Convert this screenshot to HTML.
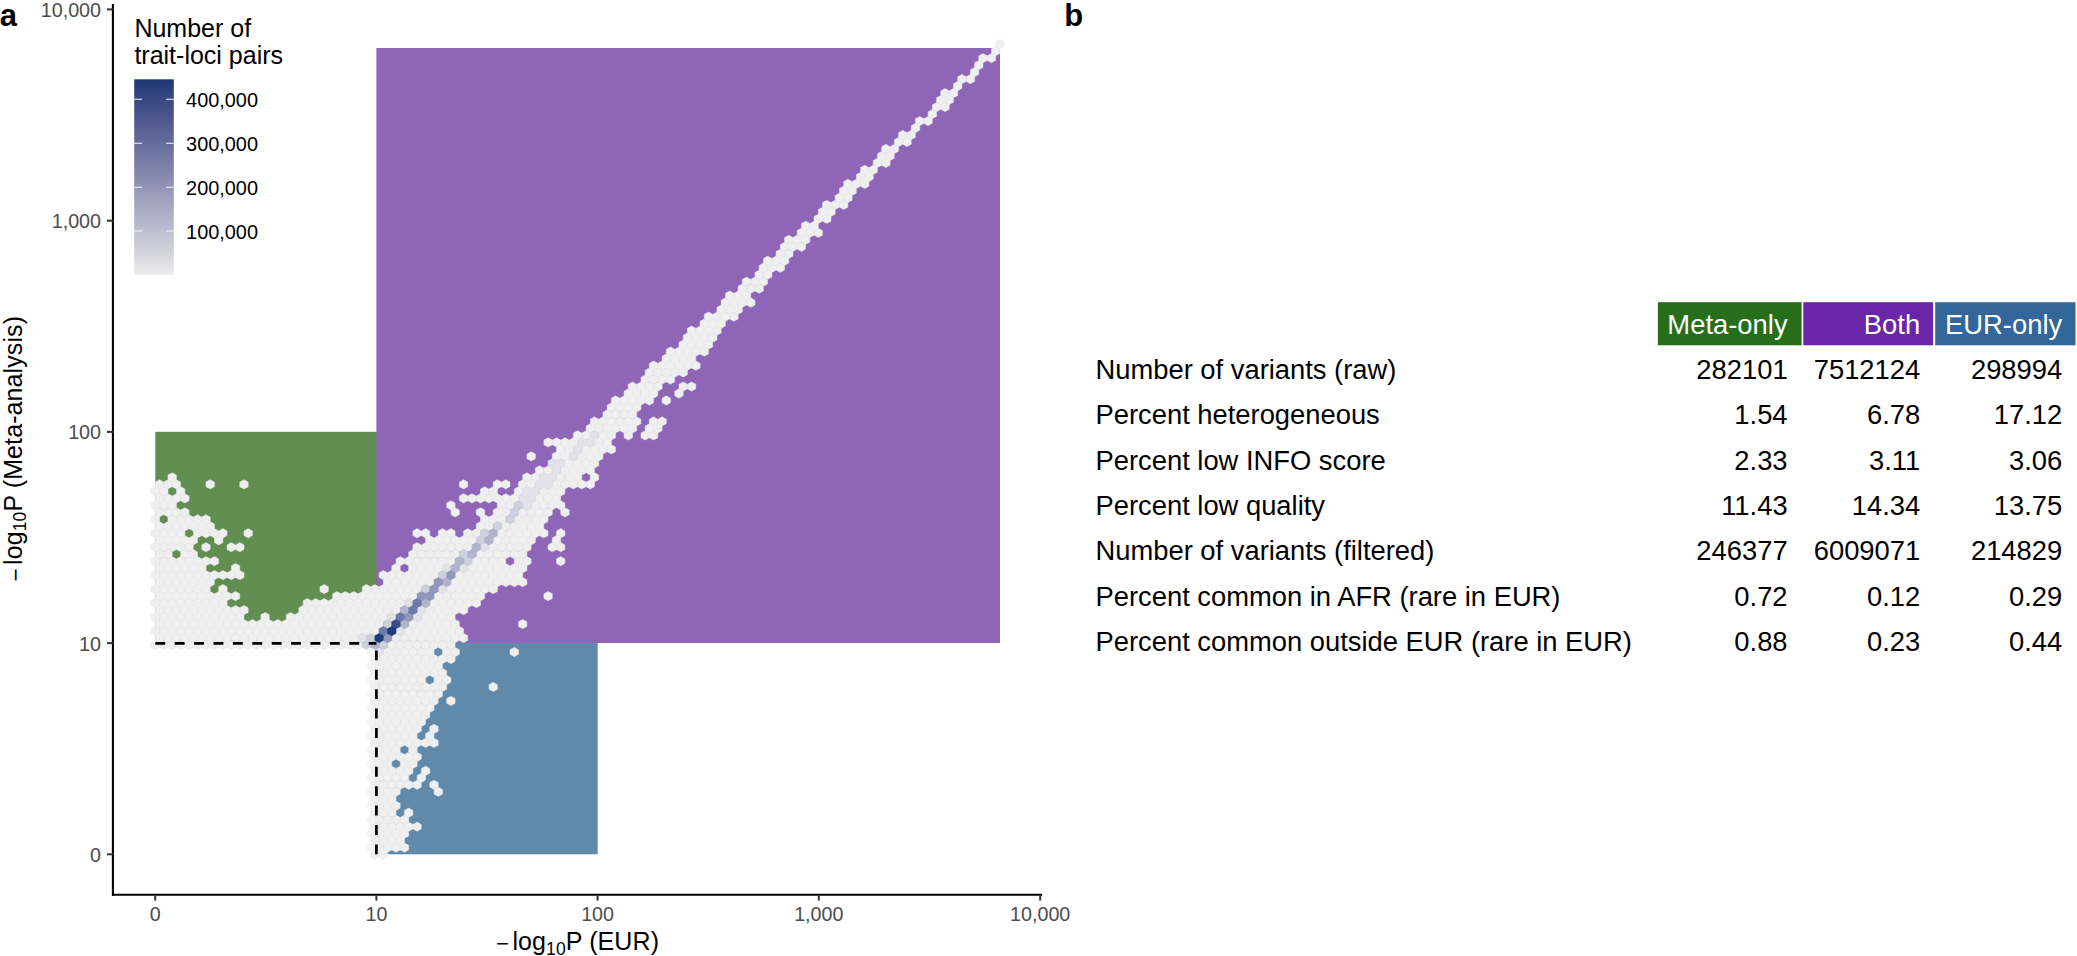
<!DOCTYPE html>
<html><head><meta charset="utf-8"><title>Figure</title><style>html,body{margin:0;padding:0;background:#fff}
svg{display:block}
text{font-family:"Liberation Sans",Arial,sans-serif}
.tk{font-size:19.7px;fill:#4d4d4d}
.at{font-size:25px;fill:#000;letter-spacing:0.1px}
.pl{font-size:31px;font-weight:bold;fill:#000}
.lt{font-size:25px;fill:#000}
.ll{font-size:19.9px;fill:#000}
.th{font-size:27.4px;fill:#fff}
.td{font-size:27.35px;fill:#000}
</style></head><body>
<svg width="2077" height="956" viewBox="0 0 2077 956">
<rect x="0" y="0" width="2077" height="956" fill="#fff"/>
<rect x="155.3" y="431.8" width="224" height="211.2" fill="#628e52"/>
<rect x="376.4" y="640" width="221.3" height="214.3" fill="#618aaa"/>
<rect x="376.4" y="48" width="623.6" height="595" fill="#8f65b8"/>
<path fill="#efeff0" stroke="#e7e7e9" stroke-width="0.5" d="M176.4 475.03l-4.22 -2.32l-4.22 2.32v4.64l4.22 2.32l4.22 -2.32zM531.1 475.03l-4.22 -2.32l-4.22 2.32v4.64l4.22 2.32l4.22 -2.32zM539.6 475.03l-4.22 -2.32l-4.22 2.32v4.64l4.22 2.32l4.22 -2.32zM564.9 475.03l-4.22 -2.32l-4.22 2.32v4.64l4.22 2.32l4.22 -2.32zM573.4 475.03l-4.22 -2.32l-4.22 2.32v4.64l4.22 2.32l4.22 -2.32zM581.8 475.03l-4.22 -2.32l-4.22 2.32v4.64l4.22 2.32l4.22 -2.32zM598.7 475.03l-4.22 -2.32l-4.22 2.32v4.64l4.22 2.32l4.22 -2.32zM163.7 482.02l-4.22 -2.32l-4.22 2.32v4.64l4.22 2.32l4.22 -2.32zM172.2 482.02l-4.22 -2.32l-4.22 2.32v4.64l4.22 2.32l4.22 -2.32zM180.6 482.02l-4.22 -2.32l-4.22 2.32v4.64l4.22 2.32l4.22 -2.32zM214.4 482.02l-4.22 -2.32l-4.22 2.32v4.64l4.22 2.32l4.22 -2.32zM248.2 482.02l-4.22 -2.32l-4.22 2.32v4.64l4.22 2.32l4.22 -2.32zM467.8 482.02l-4.22 -2.32l-4.22 2.32v4.64l4.22 2.32l4.22 -2.32zM501.6 482.02l-4.22 -2.32l-4.22 2.32v4.64l4.22 2.32l4.22 -2.32zM510.0 482.02l-4.22 -2.32l-4.22 2.32v4.64l4.22 2.32l4.22 -2.32zM526.9 482.02l-4.22 -2.32l-4.22 2.32v4.64l4.22 2.32l4.22 -2.32zM535.4 482.02l-4.22 -2.32l-4.22 2.32v4.64l4.22 2.32l4.22 -2.32zM560.7 482.02l-4.22 -2.32l-4.22 2.32v4.64l4.22 2.32l4.22 -2.32zM569.2 482.02l-4.22 -2.32l-4.22 2.32v4.64l4.22 2.32l4.22 -2.32zM577.6 482.02l-4.22 -2.32l-4.22 2.32v4.64l4.22 2.32l4.22 -2.32zM586.0 482.02l-4.22 -2.32l-4.22 2.32v4.64l4.22 2.32l4.22 -2.32zM594.5 482.02l-4.22 -2.32l-4.22 2.32v4.64l4.22 2.32l4.22 -2.32zM159.5 489.01l-4.22 -2.32l-4.22 2.32v4.64l4.22 2.32l4.22 -2.32zM168.0 489.01l-4.22 -2.32l-4.22 2.32v4.64l4.22 2.32l4.22 -2.32zM184.9 489.01l-4.22 -2.32l-4.22 2.32v4.64l4.22 2.32l4.22 -2.32zM488.9 489.01l-4.22 -2.32l-4.22 2.32v4.64l4.22 2.32l4.22 -2.32zM497.4 489.01l-4.22 -2.32l-4.22 2.32v4.64l4.22 2.32l4.22 -2.32zM522.7 489.01l-4.22 -2.32l-4.22 2.32v4.64l4.22 2.32l4.22 -2.32zM548.0 489.01l-4.22 -2.32l-4.22 2.32v4.64l4.22 2.32l4.22 -2.32zM556.5 489.01l-4.22 -2.32l-4.22 2.32v4.64l4.22 2.32l4.22 -2.32zM564.9 489.01l-4.22 -2.32l-4.22 2.32v4.64l4.22 2.32l4.22 -2.32zM163.7 495.99l-4.22 -2.32l-4.22 2.32v4.64l4.22 2.32l4.22 -2.32zM172.2 495.99l-4.22 -2.32l-4.22 2.32v4.64l4.22 2.32l4.22 -2.32zM180.6 495.99l-4.22 -2.32l-4.22 2.32v4.64l4.22 2.32l4.22 -2.32zM189.1 495.99l-4.22 -2.32l-4.22 2.32v4.64l4.22 2.32l4.22 -2.32zM467.8 495.99l-4.22 -2.32l-4.22 2.32v4.64l4.22 2.32l4.22 -2.32zM476.2 495.99l-4.22 -2.32l-4.22 2.32v4.64l4.22 2.32l4.22 -2.32zM484.7 495.99l-4.22 -2.32l-4.22 2.32v4.64l4.22 2.32l4.22 -2.32zM493.1 495.99l-4.22 -2.32l-4.22 2.32v4.64l4.22 2.32l4.22 -2.32zM501.6 495.99l-4.22 -2.32l-4.22 2.32v4.64l4.22 2.32l4.22 -2.32zM510.0 495.99l-4.22 -2.32l-4.22 2.32v4.64l4.22 2.32l4.22 -2.32zM518.5 495.99l-4.22 -2.32l-4.22 2.32v4.64l4.22 2.32l4.22 -2.32zM543.8 495.99l-4.22 -2.32l-4.22 2.32v4.64l4.22 2.32l4.22 -2.32zM552.3 495.99l-4.22 -2.32l-4.22 2.32v4.64l4.22 2.32l4.22 -2.32zM560.7 495.99l-4.22 -2.32l-4.22 2.32v4.64l4.22 2.32l4.22 -2.32zM159.5 502.98l-4.22 -2.32l-4.22 2.32v4.64l4.22 2.32l4.22 -2.32zM168.0 502.98l-4.22 -2.32l-4.22 2.32v4.64l4.22 2.32l4.22 -2.32zM176.4 502.98l-4.22 -2.32l-4.22 2.32v4.64l4.22 2.32l4.22 -2.32zM455.1 502.98l-4.22 -2.32l-4.22 2.32v4.64l4.22 2.32l4.22 -2.32zM505.8 502.98l-4.22 -2.32l-4.22 2.32v4.64l4.22 2.32l4.22 -2.32zM514.3 502.98l-4.22 -2.32l-4.22 2.32v4.64l4.22 2.32l4.22 -2.32zM539.6 502.98l-4.22 -2.32l-4.22 2.32v4.64l4.22 2.32l4.22 -2.32zM548.0 502.98l-4.22 -2.32l-4.22 2.32v4.64l4.22 2.32l4.22 -2.32zM556.5 502.98l-4.22 -2.32l-4.22 2.32v4.64l4.22 2.32l4.22 -2.32zM564.9 502.98l-4.22 -2.32l-4.22 2.32v4.64l4.22 2.32l4.22 -2.32zM163.7 509.97l-4.22 -2.32l-4.22 2.32v4.64l4.22 2.32l4.22 -2.32zM172.2 509.97l-4.22 -2.32l-4.22 2.32v4.64l4.22 2.32l4.22 -2.32zM180.6 509.97l-4.22 -2.32l-4.22 2.32v4.64l4.22 2.32l4.22 -2.32zM189.1 509.97l-4.22 -2.32l-4.22 2.32v4.64l4.22 2.32l4.22 -2.32zM459.4 509.97l-4.22 -2.32l-4.22 2.32v4.64l4.22 2.32l4.22 -2.32zM484.7 509.97l-4.22 -2.32l-4.22 2.32v4.64l4.22 2.32l4.22 -2.32zM501.6 509.97l-4.22 -2.32l-4.22 2.32v4.64l4.22 2.32l4.22 -2.32zM510.0 509.97l-4.22 -2.32l-4.22 2.32v4.64l4.22 2.32l4.22 -2.32zM526.9 509.97l-4.22 -2.32l-4.22 2.32v4.64l4.22 2.32l4.22 -2.32zM535.4 509.97l-4.22 -2.32l-4.22 2.32v4.64l4.22 2.32l4.22 -2.32zM543.8 509.97l-4.22 -2.32l-4.22 2.32v4.64l4.22 2.32l4.22 -2.32zM552.3 509.97l-4.22 -2.32l-4.22 2.32v4.64l4.22 2.32l4.22 -2.32zM569.2 509.97l-4.22 -2.32l-4.22 2.32v4.64l4.22 2.32l4.22 -2.32zM159.5 516.95l-4.22 -2.32l-4.22 2.32v4.64l4.22 2.32l4.22 -2.32zM176.4 516.95l-4.22 -2.32l-4.22 2.32v4.64l4.22 2.32l4.22 -2.32zM184.9 516.95l-4.22 -2.32l-4.22 2.32v4.64l4.22 2.32l4.22 -2.32zM193.3 516.95l-4.22 -2.32l-4.22 2.32v4.64l4.22 2.32l4.22 -2.32zM201.8 516.95l-4.22 -2.32l-4.22 2.32v4.64l4.22 2.32l4.22 -2.32zM210.2 516.95l-4.22 -2.32l-4.22 2.32v4.64l4.22 2.32l4.22 -2.32zM488.9 516.95l-4.22 -2.32l-4.22 2.32v4.64l4.22 2.32l4.22 -2.32zM497.4 516.95l-4.22 -2.32l-4.22 2.32v4.64l4.22 2.32l4.22 -2.32zM505.8 516.95l-4.22 -2.32l-4.22 2.32v4.64l4.22 2.32l4.22 -2.32zM522.7 516.95l-4.22 -2.32l-4.22 2.32v4.64l4.22 2.32l4.22 -2.32zM531.1 516.95l-4.22 -2.32l-4.22 2.32v4.64l4.22 2.32l4.22 -2.32zM539.6 516.95l-4.22 -2.32l-4.22 2.32v4.64l4.22 2.32l4.22 -2.32zM548.0 516.95l-4.22 -2.32l-4.22 2.32v4.64l4.22 2.32l4.22 -2.32zM163.7 523.94l-4.22 -2.32l-4.22 2.32v4.64l4.22 2.32l4.22 -2.32zM172.2 523.94l-4.22 -2.32l-4.22 2.32v4.64l4.22 2.32l4.22 -2.32zM180.6 523.94l-4.22 -2.32l-4.22 2.32v4.64l4.22 2.32l4.22 -2.32zM189.1 523.94l-4.22 -2.32l-4.22 2.32v4.64l4.22 2.32l4.22 -2.32zM197.5 523.94l-4.22 -2.32l-4.22 2.32v4.64l4.22 2.32l4.22 -2.32zM206.0 523.94l-4.22 -2.32l-4.22 2.32v4.64l4.22 2.32l4.22 -2.32zM214.4 523.94l-4.22 -2.32l-4.22 2.32v4.64l4.22 2.32l4.22 -2.32zM484.7 523.94l-4.22 -2.32l-4.22 2.32v4.64l4.22 2.32l4.22 -2.32zM493.1 523.94l-4.22 -2.32l-4.22 2.32v4.64l4.22 2.32l4.22 -2.32zM510.0 523.94l-4.22 -2.32l-4.22 2.32v4.64l4.22 2.32l4.22 -2.32zM518.5 523.94l-4.22 -2.32l-4.22 2.32v4.64l4.22 2.32l4.22 -2.32zM526.9 523.94l-4.22 -2.32l-4.22 2.32v4.64l4.22 2.32l4.22 -2.32zM535.4 523.94l-4.22 -2.32l-4.22 2.32v4.64l4.22 2.32l4.22 -2.32zM543.8 523.94l-4.22 -2.32l-4.22 2.32v4.64l4.22 2.32l4.22 -2.32zM159.5 530.93l-4.22 -2.32l-4.22 2.32v4.64l4.22 2.32l4.22 -2.32zM168.0 530.93l-4.22 -2.32l-4.22 2.32v4.64l4.22 2.32l4.22 -2.32zM176.4 530.93l-4.22 -2.32l-4.22 2.32v4.64l4.22 2.32l4.22 -2.32zM184.9 530.93l-4.22 -2.32l-4.22 2.32v4.64l4.22 2.32l4.22 -2.32zM201.8 530.93l-4.22 -2.32l-4.22 2.32v4.64l4.22 2.32l4.22 -2.32zM210.2 530.93l-4.22 -2.32l-4.22 2.32v4.64l4.22 2.32l4.22 -2.32zM218.6 530.93l-4.22 -2.32l-4.22 2.32v4.64l4.22 2.32l4.22 -2.32zM227.1 530.93l-4.22 -2.32l-4.22 2.32v4.64l4.22 2.32l4.22 -2.32zM252.4 530.93l-4.22 -2.32l-4.22 2.32v4.64l4.22 2.32l4.22 -2.32zM421.3 530.93l-4.22 -2.32l-4.22 2.32v4.64l4.22 2.32l4.22 -2.32zM429.8 530.93l-4.22 -2.32l-4.22 2.32v4.64l4.22 2.32l4.22 -2.32zM446.7 530.93l-4.22 -2.32l-4.22 2.32v4.64l4.22 2.32l4.22 -2.32zM455.1 530.93l-4.22 -2.32l-4.22 2.32v4.64l4.22 2.32l4.22 -2.32zM472.0 530.93l-4.22 -2.32l-4.22 2.32v4.64l4.22 2.32l4.22 -2.32zM480.5 530.93l-4.22 -2.32l-4.22 2.32v4.64l4.22 2.32l4.22 -2.32zM505.8 530.93l-4.22 -2.32l-4.22 2.32v4.64l4.22 2.32l4.22 -2.32zM514.3 530.93l-4.22 -2.32l-4.22 2.32v4.64l4.22 2.32l4.22 -2.32zM522.7 530.93l-4.22 -2.32l-4.22 2.32v4.64l4.22 2.32l4.22 -2.32zM531.1 530.93l-4.22 -2.32l-4.22 2.32v4.64l4.22 2.32l4.22 -2.32zM539.6 530.93l-4.22 -2.32l-4.22 2.32v4.64l4.22 2.32l4.22 -2.32zM548.0 530.93l-4.22 -2.32l-4.22 2.32v4.64l4.22 2.32l4.22 -2.32zM564.9 530.93l-4.22 -2.32l-4.22 2.32v4.64l4.22 2.32l4.22 -2.32zM163.7 537.92l-4.22 -2.32l-4.22 2.32v4.64l4.22 2.32l4.22 -2.32zM172.2 537.92l-4.22 -2.32l-4.22 2.32v4.64l4.22 2.32l4.22 -2.32zM180.6 537.92l-4.22 -2.32l-4.22 2.32v4.64l4.22 2.32l4.22 -2.32zM189.1 537.92l-4.22 -2.32l-4.22 2.32v4.64l4.22 2.32l4.22 -2.32zM197.5 537.92l-4.22 -2.32l-4.22 2.32v4.64l4.22 2.32l4.22 -2.32zM222.9 537.92l-4.22 -2.32l-4.22 2.32v4.64l4.22 2.32l4.22 -2.32zM434.0 537.92l-4.22 -2.32l-4.22 2.32v4.64l4.22 2.32l4.22 -2.32zM442.5 537.92l-4.22 -2.32l-4.22 2.32v4.64l4.22 2.32l4.22 -2.32zM450.9 537.92l-4.22 -2.32l-4.22 2.32v4.64l4.22 2.32l4.22 -2.32zM459.4 537.92l-4.22 -2.32l-4.22 2.32v4.64l4.22 2.32l4.22 -2.32zM467.8 537.92l-4.22 -2.32l-4.22 2.32v4.64l4.22 2.32l4.22 -2.32zM476.2 537.92l-4.22 -2.32l-4.22 2.32v4.64l4.22 2.32l4.22 -2.32zM501.6 537.92l-4.22 -2.32l-4.22 2.32v4.64l4.22 2.32l4.22 -2.32zM510.0 537.92l-4.22 -2.32l-4.22 2.32v4.64l4.22 2.32l4.22 -2.32zM518.5 537.92l-4.22 -2.32l-4.22 2.32v4.64l4.22 2.32l4.22 -2.32zM526.9 537.92l-4.22 -2.32l-4.22 2.32v4.64l4.22 2.32l4.22 -2.32zM535.4 537.92l-4.22 -2.32l-4.22 2.32v4.64l4.22 2.32l4.22 -2.32zM560.7 537.92l-4.22 -2.32l-4.22 2.32v4.64l4.22 2.32l4.22 -2.32zM159.5 544.90l-4.22 -2.32l-4.22 2.32v4.64l4.22 2.32l4.22 -2.32zM168.0 544.90l-4.22 -2.32l-4.22 2.32v4.64l4.22 2.32l4.22 -2.32zM176.4 544.90l-4.22 -2.32l-4.22 2.32v4.64l4.22 2.32l4.22 -2.32zM184.9 544.90l-4.22 -2.32l-4.22 2.32v4.64l4.22 2.32l4.22 -2.32zM193.3 544.90l-4.22 -2.32l-4.22 2.32v4.64l4.22 2.32l4.22 -2.32zM210.2 544.90l-4.22 -2.32l-4.22 2.32v4.64l4.22 2.32l4.22 -2.32zM235.5 544.90l-4.22 -2.32l-4.22 2.32v4.64l4.22 2.32l4.22 -2.32zM244.0 544.90l-4.22 -2.32l-4.22 2.32v4.64l4.22 2.32l4.22 -2.32zM421.3 544.90l-4.22 -2.32l-4.22 2.32v4.64l4.22 2.32l4.22 -2.32zM429.8 544.90l-4.22 -2.32l-4.22 2.32v4.64l4.22 2.32l4.22 -2.32zM438.2 544.90l-4.22 -2.32l-4.22 2.32v4.64l4.22 2.32l4.22 -2.32zM446.7 544.90l-4.22 -2.32l-4.22 2.32v4.64l4.22 2.32l4.22 -2.32zM455.1 544.90l-4.22 -2.32l-4.22 2.32v4.64l4.22 2.32l4.22 -2.32zM463.6 544.90l-4.22 -2.32l-4.22 2.32v4.64l4.22 2.32l4.22 -2.32zM472.0 544.90l-4.22 -2.32l-4.22 2.32v4.64l4.22 2.32l4.22 -2.32zM497.4 544.90l-4.22 -2.32l-4.22 2.32v4.64l4.22 2.32l4.22 -2.32zM505.8 544.90l-4.22 -2.32l-4.22 2.32v4.64l4.22 2.32l4.22 -2.32zM514.3 544.90l-4.22 -2.32l-4.22 2.32v4.64l4.22 2.32l4.22 -2.32zM522.7 544.90l-4.22 -2.32l-4.22 2.32v4.64l4.22 2.32l4.22 -2.32zM531.1 544.90l-4.22 -2.32l-4.22 2.32v4.64l4.22 2.32l4.22 -2.32zM556.5 544.90l-4.22 -2.32l-4.22 2.32v4.64l4.22 2.32l4.22 -2.32zM564.9 544.90l-4.22 -2.32l-4.22 2.32v4.64l4.22 2.32l4.22 -2.32zM163.7 551.89l-4.22 -2.32l-4.22 2.32v4.64l4.22 2.32l4.22 -2.32zM172.2 551.89l-4.22 -2.32l-4.22 2.32v4.64l4.22 2.32l4.22 -2.32zM189.1 551.89l-4.22 -2.32l-4.22 2.32v4.64l4.22 2.32l4.22 -2.32zM197.5 551.89l-4.22 -2.32l-4.22 2.32v4.64l4.22 2.32l4.22 -2.32zM417.1 551.89l-4.22 -2.32l-4.22 2.32v4.64l4.22 2.32l4.22 -2.32zM425.6 551.89l-4.22 -2.32l-4.22 2.32v4.64l4.22 2.32l4.22 -2.32zM434.0 551.89l-4.22 -2.32l-4.22 2.32v4.64l4.22 2.32l4.22 -2.32zM442.5 551.89l-4.22 -2.32l-4.22 2.32v4.64l4.22 2.32l4.22 -2.32zM450.9 551.89l-4.22 -2.32l-4.22 2.32v4.64l4.22 2.32l4.22 -2.32zM459.4 551.89l-4.22 -2.32l-4.22 2.32v4.64l4.22 2.32l4.22 -2.32zM484.7 551.89l-4.22 -2.32l-4.22 2.32v4.64l4.22 2.32l4.22 -2.32zM493.1 551.89l-4.22 -2.32l-4.22 2.32v4.64l4.22 2.32l4.22 -2.32zM501.6 551.89l-4.22 -2.32l-4.22 2.32v4.64l4.22 2.32l4.22 -2.32zM510.0 551.89l-4.22 -2.32l-4.22 2.32v4.64l4.22 2.32l4.22 -2.32zM518.5 551.89l-4.22 -2.32l-4.22 2.32v4.64l4.22 2.32l4.22 -2.32zM526.9 551.89l-4.22 -2.32l-4.22 2.32v4.64l4.22 2.32l4.22 -2.32zM159.5 558.88l-4.22 -2.32l-4.22 2.32v4.64l4.22 2.32l4.22 -2.32zM168.0 558.88l-4.22 -2.32l-4.22 2.32v4.64l4.22 2.32l4.22 -2.32zM176.4 558.88l-4.22 -2.32l-4.22 2.32v4.64l4.22 2.32l4.22 -2.32zM184.9 558.88l-4.22 -2.32l-4.22 2.32v4.64l4.22 2.32l4.22 -2.32zM193.3 558.88l-4.22 -2.32l-4.22 2.32v4.64l4.22 2.32l4.22 -2.32zM201.8 558.88l-4.22 -2.32l-4.22 2.32v4.64l4.22 2.32l4.22 -2.32zM210.2 558.88l-4.22 -2.32l-4.22 2.32v4.64l4.22 2.32l4.22 -2.32zM218.6 558.88l-4.22 -2.32l-4.22 2.32v4.64l4.22 2.32l4.22 -2.32zM404.5 558.88l-4.22 -2.32l-4.22 2.32v4.64l4.22 2.32l4.22 -2.32zM412.9 558.88l-4.22 -2.32l-4.22 2.32v4.64l4.22 2.32l4.22 -2.32zM421.3 558.88l-4.22 -2.32l-4.22 2.32v4.64l4.22 2.32l4.22 -2.32zM429.8 558.88l-4.22 -2.32l-4.22 2.32v4.64l4.22 2.32l4.22 -2.32zM438.2 558.88l-4.22 -2.32l-4.22 2.32v4.64l4.22 2.32l4.22 -2.32zM446.7 558.88l-4.22 -2.32l-4.22 2.32v4.64l4.22 2.32l4.22 -2.32zM455.1 558.88l-4.22 -2.32l-4.22 2.32v4.64l4.22 2.32l4.22 -2.32zM480.5 558.88l-4.22 -2.32l-4.22 2.32v4.64l4.22 2.32l4.22 -2.32zM488.9 558.88l-4.22 -2.32l-4.22 2.32v4.64l4.22 2.32l4.22 -2.32zM497.4 558.88l-4.22 -2.32l-4.22 2.32v4.64l4.22 2.32l4.22 -2.32zM505.8 558.88l-4.22 -2.32l-4.22 2.32v4.64l4.22 2.32l4.22 -2.32zM522.7 558.88l-4.22 -2.32l-4.22 2.32v4.64l4.22 2.32l4.22 -2.32zM531.1 558.88l-4.22 -2.32l-4.22 2.32v4.64l4.22 2.32l4.22 -2.32zM564.9 558.88l-4.22 -2.32l-4.22 2.32v4.64l4.22 2.32l4.22 -2.32zM163.7 565.86l-4.22 -2.32l-4.22 2.32v4.64l4.22 2.32l4.22 -2.32zM172.2 565.86l-4.22 -2.32l-4.22 2.32v4.64l4.22 2.32l4.22 -2.32zM180.6 565.86l-4.22 -2.32l-4.22 2.32v4.64l4.22 2.32l4.22 -2.32zM189.1 565.86l-4.22 -2.32l-4.22 2.32v4.64l4.22 2.32l4.22 -2.32zM197.5 565.86l-4.22 -2.32l-4.22 2.32v4.64l4.22 2.32l4.22 -2.32zM206.0 565.86l-4.22 -2.32l-4.22 2.32v4.64l4.22 2.32l4.22 -2.32zM239.8 565.86l-4.22 -2.32l-4.22 2.32v4.64l4.22 2.32l4.22 -2.32zM400.2 565.86l-4.22 -2.32l-4.22 2.32v4.64l4.22 2.32l4.22 -2.32zM417.1 565.86l-4.22 -2.32l-4.22 2.32v4.64l4.22 2.32l4.22 -2.32zM425.6 565.86l-4.22 -2.32l-4.22 2.32v4.64l4.22 2.32l4.22 -2.32zM434.0 565.86l-4.22 -2.32l-4.22 2.32v4.64l4.22 2.32l4.22 -2.32zM442.5 565.86l-4.22 -2.32l-4.22 2.32v4.64l4.22 2.32l4.22 -2.32zM476.2 565.86l-4.22 -2.32l-4.22 2.32v4.64l4.22 2.32l4.22 -2.32zM484.7 565.86l-4.22 -2.32l-4.22 2.32v4.64l4.22 2.32l4.22 -2.32zM493.1 565.86l-4.22 -2.32l-4.22 2.32v4.64l4.22 2.32l4.22 -2.32zM501.6 565.86l-4.22 -2.32l-4.22 2.32v4.64l4.22 2.32l4.22 -2.32zM510.0 565.86l-4.22 -2.32l-4.22 2.32v4.64l4.22 2.32l4.22 -2.32zM518.5 565.86l-4.22 -2.32l-4.22 2.32v4.64l4.22 2.32l4.22 -2.32zM526.9 565.86l-4.22 -2.32l-4.22 2.32v4.64l4.22 2.32l4.22 -2.32zM159.5 572.85l-4.22 -2.32l-4.22 2.32v4.64l4.22 2.32l4.22 -2.32zM168.0 572.85l-4.22 -2.32l-4.22 2.32v4.64l4.22 2.32l4.22 -2.32zM176.4 572.85l-4.22 -2.32l-4.22 2.32v4.64l4.22 2.32l4.22 -2.32zM184.9 572.85l-4.22 -2.32l-4.22 2.32v4.64l4.22 2.32l4.22 -2.32zM193.3 572.85l-4.22 -2.32l-4.22 2.32v4.64l4.22 2.32l4.22 -2.32zM201.8 572.85l-4.22 -2.32l-4.22 2.32v4.64l4.22 2.32l4.22 -2.32zM210.2 572.85l-4.22 -2.32l-4.22 2.32v4.64l4.22 2.32l4.22 -2.32zM218.6 572.85l-4.22 -2.32l-4.22 2.32v4.64l4.22 2.32l4.22 -2.32zM227.1 572.85l-4.22 -2.32l-4.22 2.32v4.64l4.22 2.32l4.22 -2.32zM235.5 572.85l-4.22 -2.32l-4.22 2.32v4.64l4.22 2.32l4.22 -2.32zM244.0 572.85l-4.22 -2.32l-4.22 2.32v4.64l4.22 2.32l4.22 -2.32zM387.6 572.85l-4.22 -2.32l-4.22 2.32v4.64l4.22 2.32l4.22 -2.32zM396.0 572.85l-4.22 -2.32l-4.22 2.32v4.64l4.22 2.32l4.22 -2.32zM404.5 572.85l-4.22 -2.32l-4.22 2.32v4.64l4.22 2.32l4.22 -2.32zM412.9 572.85l-4.22 -2.32l-4.22 2.32v4.64l4.22 2.32l4.22 -2.32zM421.3 572.85l-4.22 -2.32l-4.22 2.32v4.64l4.22 2.32l4.22 -2.32zM429.8 572.85l-4.22 -2.32l-4.22 2.32v4.64l4.22 2.32l4.22 -2.32zM438.2 572.85l-4.22 -2.32l-4.22 2.32v4.64l4.22 2.32l4.22 -2.32zM463.6 572.85l-4.22 -2.32l-4.22 2.32v4.64l4.22 2.32l4.22 -2.32zM472.0 572.85l-4.22 -2.32l-4.22 2.32v4.64l4.22 2.32l4.22 -2.32zM480.5 572.85l-4.22 -2.32l-4.22 2.32v4.64l4.22 2.32l4.22 -2.32zM488.9 572.85l-4.22 -2.32l-4.22 2.32v4.64l4.22 2.32l4.22 -2.32zM497.4 572.85l-4.22 -2.32l-4.22 2.32v4.64l4.22 2.32l4.22 -2.32zM505.8 572.85l-4.22 -2.32l-4.22 2.32v4.64l4.22 2.32l4.22 -2.32zM514.3 572.85l-4.22 -2.32l-4.22 2.32v4.64l4.22 2.32l4.22 -2.32zM522.7 572.85l-4.22 -2.32l-4.22 2.32v4.64l4.22 2.32l4.22 -2.32zM163.7 579.84l-4.22 -2.32l-4.22 2.32v4.64l4.22 2.32l4.22 -2.32zM172.2 579.84l-4.22 -2.32l-4.22 2.32v4.64l4.22 2.32l4.22 -2.32zM180.6 579.84l-4.22 -2.32l-4.22 2.32v4.64l4.22 2.32l4.22 -2.32zM189.1 579.84l-4.22 -2.32l-4.22 2.32v4.64l4.22 2.32l4.22 -2.32zM197.5 579.84l-4.22 -2.32l-4.22 2.32v4.64l4.22 2.32l4.22 -2.32zM206.0 579.84l-4.22 -2.32l-4.22 2.32v4.64l4.22 2.32l4.22 -2.32zM214.4 579.84l-4.22 -2.32l-4.22 2.32v4.64l4.22 2.32l4.22 -2.32zM391.8 579.84l-4.22 -2.32l-4.22 2.32v4.64l4.22 2.32l4.22 -2.32zM400.2 579.84l-4.22 -2.32l-4.22 2.32v4.64l4.22 2.32l4.22 -2.32zM408.7 579.84l-4.22 -2.32l-4.22 2.32v4.64l4.22 2.32l4.22 -2.32zM417.1 579.84l-4.22 -2.32l-4.22 2.32v4.64l4.22 2.32l4.22 -2.32zM425.6 579.84l-4.22 -2.32l-4.22 2.32v4.64l4.22 2.32l4.22 -2.32zM434.0 579.84l-4.22 -2.32l-4.22 2.32v4.64l4.22 2.32l4.22 -2.32zM459.4 579.84l-4.22 -2.32l-4.22 2.32v4.64l4.22 2.32l4.22 -2.32zM467.8 579.84l-4.22 -2.32l-4.22 2.32v4.64l4.22 2.32l4.22 -2.32zM476.2 579.84l-4.22 -2.32l-4.22 2.32v4.64l4.22 2.32l4.22 -2.32zM484.7 579.84l-4.22 -2.32l-4.22 2.32v4.64l4.22 2.32l4.22 -2.32zM493.1 579.84l-4.22 -2.32l-4.22 2.32v4.64l4.22 2.32l4.22 -2.32zM501.6 579.84l-4.22 -2.32l-4.22 2.32v4.64l4.22 2.32l4.22 -2.32zM510.0 579.84l-4.22 -2.32l-4.22 2.32v4.64l4.22 2.32l4.22 -2.32zM518.5 579.84l-4.22 -2.32l-4.22 2.32v4.64l4.22 2.32l4.22 -2.32zM526.9 579.84l-4.22 -2.32l-4.22 2.32v4.64l4.22 2.32l4.22 -2.32zM159.5 586.82l-4.22 -2.32l-4.22 2.32v4.64l4.22 2.32l4.22 -2.32zM168.0 586.82l-4.22 -2.32l-4.22 2.32v4.64l4.22 2.32l4.22 -2.32zM176.4 586.82l-4.22 -2.32l-4.22 2.32v4.64l4.22 2.32l4.22 -2.32zM184.9 586.82l-4.22 -2.32l-4.22 2.32v4.64l4.22 2.32l4.22 -2.32zM193.3 586.82l-4.22 -2.32l-4.22 2.32v4.64l4.22 2.32l4.22 -2.32zM201.8 586.82l-4.22 -2.32l-4.22 2.32v4.64l4.22 2.32l4.22 -2.32zM210.2 586.82l-4.22 -2.32l-4.22 2.32v4.64l4.22 2.32l4.22 -2.32zM227.1 586.82l-4.22 -2.32l-4.22 2.32v4.64l4.22 2.32l4.22 -2.32zM328.4 586.82l-4.22 -2.32l-4.22 2.32v4.64l4.22 2.32l4.22 -2.32zM370.7 586.82l-4.22 -2.32l-4.22 2.32v4.64l4.22 2.32l4.22 -2.32zM379.1 586.82l-4.22 -2.32l-4.22 2.32v4.64l4.22 2.32l4.22 -2.32zM387.6 586.82l-4.22 -2.32l-4.22 2.32v4.64l4.22 2.32l4.22 -2.32zM396.0 586.82l-4.22 -2.32l-4.22 2.32v4.64l4.22 2.32l4.22 -2.32zM404.5 586.82l-4.22 -2.32l-4.22 2.32v4.64l4.22 2.32l4.22 -2.32zM412.9 586.82l-4.22 -2.32l-4.22 2.32v4.64l4.22 2.32l4.22 -2.32zM421.3 586.82l-4.22 -2.32l-4.22 2.32v4.64l4.22 2.32l4.22 -2.32zM455.1 586.82l-4.22 -2.32l-4.22 2.32v4.64l4.22 2.32l4.22 -2.32zM463.6 586.82l-4.22 -2.32l-4.22 2.32v4.64l4.22 2.32l4.22 -2.32zM472.0 586.82l-4.22 -2.32l-4.22 2.32v4.64l4.22 2.32l4.22 -2.32zM480.5 586.82l-4.22 -2.32l-4.22 2.32v4.64l4.22 2.32l4.22 -2.32zM488.9 586.82l-4.22 -2.32l-4.22 2.32v4.64l4.22 2.32l4.22 -2.32zM497.4 586.82l-4.22 -2.32l-4.22 2.32v4.64l4.22 2.32l4.22 -2.32zM163.7 593.81l-4.22 -2.32l-4.22 2.32v4.64l4.22 2.32l4.22 -2.32zM172.2 593.81l-4.22 -2.32l-4.22 2.32v4.64l4.22 2.32l4.22 -2.32zM180.6 593.81l-4.22 -2.32l-4.22 2.32v4.64l4.22 2.32l4.22 -2.32zM189.1 593.81l-4.22 -2.32l-4.22 2.32v4.64l4.22 2.32l4.22 -2.32zM197.5 593.81l-4.22 -2.32l-4.22 2.32v4.64l4.22 2.32l4.22 -2.32zM206.0 593.81l-4.22 -2.32l-4.22 2.32v4.64l4.22 2.32l4.22 -2.32zM214.4 593.81l-4.22 -2.32l-4.22 2.32v4.64l4.22 2.32l4.22 -2.32zM222.9 593.81l-4.22 -2.32l-4.22 2.32v4.64l4.22 2.32l4.22 -2.32zM231.3 593.81l-4.22 -2.32l-4.22 2.32v4.64l4.22 2.32l4.22 -2.32zM239.8 593.81l-4.22 -2.32l-4.22 2.32v4.64l4.22 2.32l4.22 -2.32zM341.1 593.81l-4.22 -2.32l-4.22 2.32v4.64l4.22 2.32l4.22 -2.32zM349.6 593.81l-4.22 -2.32l-4.22 2.32v4.64l4.22 2.32l4.22 -2.32zM358.0 593.81l-4.22 -2.32l-4.22 2.32v4.64l4.22 2.32l4.22 -2.32zM366.5 593.81l-4.22 -2.32l-4.22 2.32v4.64l4.22 2.32l4.22 -2.32zM374.9 593.81l-4.22 -2.32l-4.22 2.32v4.64l4.22 2.32l4.22 -2.32zM383.3 593.81l-4.22 -2.32l-4.22 2.32v4.64l4.22 2.32l4.22 -2.32zM391.8 593.81l-4.22 -2.32l-4.22 2.32v4.64l4.22 2.32l4.22 -2.32zM400.2 593.81l-4.22 -2.32l-4.22 2.32v4.64l4.22 2.32l4.22 -2.32zM408.7 593.81l-4.22 -2.32l-4.22 2.32v4.64l4.22 2.32l4.22 -2.32zM417.1 593.81l-4.22 -2.32l-4.22 2.32v4.64l4.22 2.32l4.22 -2.32zM442.5 593.81l-4.22 -2.32l-4.22 2.32v4.64l4.22 2.32l4.22 -2.32zM450.9 593.81l-4.22 -2.32l-4.22 2.32v4.64l4.22 2.32l4.22 -2.32zM459.4 593.81l-4.22 -2.32l-4.22 2.32v4.64l4.22 2.32l4.22 -2.32zM467.8 593.81l-4.22 -2.32l-4.22 2.32v4.64l4.22 2.32l4.22 -2.32zM476.2 593.81l-4.22 -2.32l-4.22 2.32v4.64l4.22 2.32l4.22 -2.32zM484.7 593.81l-4.22 -2.32l-4.22 2.32v4.64l4.22 2.32l4.22 -2.32zM552.3 593.81l-4.22 -2.32l-4.22 2.32v4.64l4.22 2.32l4.22 -2.32zM159.5 600.80l-4.22 -2.32l-4.22 2.32v4.64l4.22 2.32l4.22 -2.32zM168.0 600.80l-4.22 -2.32l-4.22 2.32v4.64l4.22 2.32l4.22 -2.32zM176.4 600.80l-4.22 -2.32l-4.22 2.32v4.64l4.22 2.32l4.22 -2.32zM184.9 600.80l-4.22 -2.32l-4.22 2.32v4.64l4.22 2.32l4.22 -2.32zM193.3 600.80l-4.22 -2.32l-4.22 2.32v4.64l4.22 2.32l4.22 -2.32zM201.8 600.80l-4.22 -2.32l-4.22 2.32v4.64l4.22 2.32l4.22 -2.32zM210.2 600.80l-4.22 -2.32l-4.22 2.32v4.64l4.22 2.32l4.22 -2.32zM218.6 600.80l-4.22 -2.32l-4.22 2.32v4.64l4.22 2.32l4.22 -2.32zM227.1 600.80l-4.22 -2.32l-4.22 2.32v4.64l4.22 2.32l4.22 -2.32zM311.6 600.80l-4.22 -2.32l-4.22 2.32v4.64l4.22 2.32l4.22 -2.32zM320.0 600.80l-4.22 -2.32l-4.22 2.32v4.64l4.22 2.32l4.22 -2.32zM328.4 600.80l-4.22 -2.32l-4.22 2.32v4.64l4.22 2.32l4.22 -2.32zM336.9 600.80l-4.22 -2.32l-4.22 2.32v4.64l4.22 2.32l4.22 -2.32zM345.3 600.80l-4.22 -2.32l-4.22 2.32v4.64l4.22 2.32l4.22 -2.32zM353.8 600.80l-4.22 -2.32l-4.22 2.32v4.64l4.22 2.32l4.22 -2.32zM362.2 600.80l-4.22 -2.32l-4.22 2.32v4.64l4.22 2.32l4.22 -2.32zM370.7 600.80l-4.22 -2.32l-4.22 2.32v4.64l4.22 2.32l4.22 -2.32zM379.1 600.80l-4.22 -2.32l-4.22 2.32v4.64l4.22 2.32l4.22 -2.32zM387.6 600.80l-4.22 -2.32l-4.22 2.32v4.64l4.22 2.32l4.22 -2.32zM396.0 600.80l-4.22 -2.32l-4.22 2.32v4.64l4.22 2.32l4.22 -2.32zM404.5 600.80l-4.22 -2.32l-4.22 2.32v4.64l4.22 2.32l4.22 -2.32zM438.2 600.80l-4.22 -2.32l-4.22 2.32v4.64l4.22 2.32l4.22 -2.32zM446.7 600.80l-4.22 -2.32l-4.22 2.32v4.64l4.22 2.32l4.22 -2.32zM455.1 600.80l-4.22 -2.32l-4.22 2.32v4.64l4.22 2.32l4.22 -2.32zM463.6 600.80l-4.22 -2.32l-4.22 2.32v4.64l4.22 2.32l4.22 -2.32zM472.0 600.80l-4.22 -2.32l-4.22 2.32v4.64l4.22 2.32l4.22 -2.32zM480.5 600.80l-4.22 -2.32l-4.22 2.32v4.64l4.22 2.32l4.22 -2.32zM163.7 607.79l-4.22 -2.32l-4.22 2.32v4.64l4.22 2.32l4.22 -2.32zM172.2 607.79l-4.22 -2.32l-4.22 2.32v4.64l4.22 2.32l4.22 -2.32zM180.6 607.79l-4.22 -2.32l-4.22 2.32v4.64l4.22 2.32l4.22 -2.32zM189.1 607.79l-4.22 -2.32l-4.22 2.32v4.64l4.22 2.32l4.22 -2.32zM197.5 607.79l-4.22 -2.32l-4.22 2.32v4.64l4.22 2.32l4.22 -2.32zM206.0 607.79l-4.22 -2.32l-4.22 2.32v4.64l4.22 2.32l4.22 -2.32zM214.4 607.79l-4.22 -2.32l-4.22 2.32v4.64l4.22 2.32l4.22 -2.32zM222.9 607.79l-4.22 -2.32l-4.22 2.32v4.64l4.22 2.32l4.22 -2.32zM231.3 607.79l-4.22 -2.32l-4.22 2.32v4.64l4.22 2.32l4.22 -2.32zM239.8 607.79l-4.22 -2.32l-4.22 2.32v4.64l4.22 2.32l4.22 -2.32zM248.2 607.79l-4.22 -2.32l-4.22 2.32v4.64l4.22 2.32l4.22 -2.32zM307.3 607.79l-4.22 -2.32l-4.22 2.32v4.64l4.22 2.32l4.22 -2.32zM315.8 607.79l-4.22 -2.32l-4.22 2.32v4.64l4.22 2.32l4.22 -2.32zM324.2 607.79l-4.22 -2.32l-4.22 2.32v4.64l4.22 2.32l4.22 -2.32zM332.7 607.79l-4.22 -2.32l-4.22 2.32v4.64l4.22 2.32l4.22 -2.32zM341.1 607.79l-4.22 -2.32l-4.22 2.32v4.64l4.22 2.32l4.22 -2.32zM349.6 607.79l-4.22 -2.32l-4.22 2.32v4.64l4.22 2.32l4.22 -2.32zM358.0 607.79l-4.22 -2.32l-4.22 2.32v4.64l4.22 2.32l4.22 -2.32zM366.5 607.79l-4.22 -2.32l-4.22 2.32v4.64l4.22 2.32l4.22 -2.32zM374.9 607.79l-4.22 -2.32l-4.22 2.32v4.64l4.22 2.32l4.22 -2.32zM383.3 607.79l-4.22 -2.32l-4.22 2.32v4.64l4.22 2.32l4.22 -2.32zM391.8 607.79l-4.22 -2.32l-4.22 2.32v4.64l4.22 2.32l4.22 -2.32zM400.2 607.79l-4.22 -2.32l-4.22 2.32v4.64l4.22 2.32l4.22 -2.32zM434.0 607.79l-4.22 -2.32l-4.22 2.32v4.64l4.22 2.32l4.22 -2.32zM442.5 607.79l-4.22 -2.32l-4.22 2.32v4.64l4.22 2.32l4.22 -2.32zM450.9 607.79l-4.22 -2.32l-4.22 2.32v4.64l4.22 2.32l4.22 -2.32zM459.4 607.79l-4.22 -2.32l-4.22 2.32v4.64l4.22 2.32l4.22 -2.32zM467.8 607.79l-4.22 -2.32l-4.22 2.32v4.64l4.22 2.32l4.22 -2.32zM159.5 614.77l-4.22 -2.32l-4.22 2.32v4.64l4.22 2.32l4.22 -2.32zM168.0 614.77l-4.22 -2.32l-4.22 2.32v4.64l4.22 2.32l4.22 -2.32zM176.4 614.77l-4.22 -2.32l-4.22 2.32v4.64l4.22 2.32l4.22 -2.32zM184.9 614.77l-4.22 -2.32l-4.22 2.32v4.64l4.22 2.32l4.22 -2.32zM193.3 614.77l-4.22 -2.32l-4.22 2.32v4.64l4.22 2.32l4.22 -2.32zM201.8 614.77l-4.22 -2.32l-4.22 2.32v4.64l4.22 2.32l4.22 -2.32zM210.2 614.77l-4.22 -2.32l-4.22 2.32v4.64l4.22 2.32l4.22 -2.32zM218.6 614.77l-4.22 -2.32l-4.22 2.32v4.64l4.22 2.32l4.22 -2.32zM227.1 614.77l-4.22 -2.32l-4.22 2.32v4.64l4.22 2.32l4.22 -2.32zM235.5 614.77l-4.22 -2.32l-4.22 2.32v4.64l4.22 2.32l4.22 -2.32zM244.0 614.77l-4.22 -2.32l-4.22 2.32v4.64l4.22 2.32l4.22 -2.32zM269.3 614.77l-4.22 -2.32l-4.22 2.32v4.64l4.22 2.32l4.22 -2.32zM294.7 614.77l-4.22 -2.32l-4.22 2.32v4.64l4.22 2.32l4.22 -2.32zM303.1 614.77l-4.22 -2.32l-4.22 2.32v4.64l4.22 2.32l4.22 -2.32zM311.6 614.77l-4.22 -2.32l-4.22 2.32v4.64l4.22 2.32l4.22 -2.32zM320.0 614.77l-4.22 -2.32l-4.22 2.32v4.64l4.22 2.32l4.22 -2.32zM328.4 614.77l-4.22 -2.32l-4.22 2.32v4.64l4.22 2.32l4.22 -2.32zM336.9 614.77l-4.22 -2.32l-4.22 2.32v4.64l4.22 2.32l4.22 -2.32zM345.3 614.77l-4.22 -2.32l-4.22 2.32v4.64l4.22 2.32l4.22 -2.32zM353.8 614.77l-4.22 -2.32l-4.22 2.32v4.64l4.22 2.32l4.22 -2.32zM362.2 614.77l-4.22 -2.32l-4.22 2.32v4.64l4.22 2.32l4.22 -2.32zM370.7 614.77l-4.22 -2.32l-4.22 2.32v4.64l4.22 2.32l4.22 -2.32zM379.1 614.77l-4.22 -2.32l-4.22 2.32v4.64l4.22 2.32l4.22 -2.32zM387.6 614.77l-4.22 -2.32l-4.22 2.32v4.64l4.22 2.32l4.22 -2.32zM429.8 614.77l-4.22 -2.32l-4.22 2.32v4.64l4.22 2.32l4.22 -2.32zM438.2 614.77l-4.22 -2.32l-4.22 2.32v4.64l4.22 2.32l4.22 -2.32zM446.7 614.77l-4.22 -2.32l-4.22 2.32v4.64l4.22 2.32l4.22 -2.32zM455.1 614.77l-4.22 -2.32l-4.22 2.32v4.64l4.22 2.32l4.22 -2.32zM163.7 621.76l-4.22 -2.32l-4.22 2.32v4.64l4.22 2.32l4.22 -2.32zM172.2 621.76l-4.22 -2.32l-4.22 2.32v4.64l4.22 2.32l4.22 -2.32zM180.6 621.76l-4.22 -2.32l-4.22 2.32v4.64l4.22 2.32l4.22 -2.32zM189.1 621.76l-4.22 -2.32l-4.22 2.32v4.64l4.22 2.32l4.22 -2.32zM197.5 621.76l-4.22 -2.32l-4.22 2.32v4.64l4.22 2.32l4.22 -2.32zM206.0 621.76l-4.22 -2.32l-4.22 2.32v4.64l4.22 2.32l4.22 -2.32zM214.4 621.76l-4.22 -2.32l-4.22 2.32v4.64l4.22 2.32l4.22 -2.32zM222.9 621.76l-4.22 -2.32l-4.22 2.32v4.64l4.22 2.32l4.22 -2.32zM231.3 621.76l-4.22 -2.32l-4.22 2.32v4.64l4.22 2.32l4.22 -2.32zM239.8 621.76l-4.22 -2.32l-4.22 2.32v4.64l4.22 2.32l4.22 -2.32zM248.2 621.76l-4.22 -2.32l-4.22 2.32v4.64l4.22 2.32l4.22 -2.32zM256.7 621.76l-4.22 -2.32l-4.22 2.32v4.64l4.22 2.32l4.22 -2.32zM265.1 621.76l-4.22 -2.32l-4.22 2.32v4.64l4.22 2.32l4.22 -2.32zM273.5 621.76l-4.22 -2.32l-4.22 2.32v4.64l4.22 2.32l4.22 -2.32zM282.0 621.76l-4.22 -2.32l-4.22 2.32v4.64l4.22 2.32l4.22 -2.32zM290.4 621.76l-4.22 -2.32l-4.22 2.32v4.64l4.22 2.32l4.22 -2.32zM298.9 621.76l-4.22 -2.32l-4.22 2.32v4.64l4.22 2.32l4.22 -2.32zM307.3 621.76l-4.22 -2.32l-4.22 2.32v4.64l4.22 2.32l4.22 -2.32zM315.8 621.76l-4.22 -2.32l-4.22 2.32v4.64l4.22 2.32l4.22 -2.32zM324.2 621.76l-4.22 -2.32l-4.22 2.32v4.64l4.22 2.32l4.22 -2.32zM332.7 621.76l-4.22 -2.32l-4.22 2.32v4.64l4.22 2.32l4.22 -2.32zM341.1 621.76l-4.22 -2.32l-4.22 2.32v4.64l4.22 2.32l4.22 -2.32zM349.6 621.76l-4.22 -2.32l-4.22 2.32v4.64l4.22 2.32l4.22 -2.32zM358.0 621.76l-4.22 -2.32l-4.22 2.32v4.64l4.22 2.32l4.22 -2.32zM366.5 621.76l-4.22 -2.32l-4.22 2.32v4.64l4.22 2.32l4.22 -2.32zM374.9 621.76l-4.22 -2.32l-4.22 2.32v4.64l4.22 2.32l4.22 -2.32zM383.3 621.76l-4.22 -2.32l-4.22 2.32v4.64l4.22 2.32l4.22 -2.32zM417.1 621.76l-4.22 -2.32l-4.22 2.32v4.64l4.22 2.32l4.22 -2.32zM425.6 621.76l-4.22 -2.32l-4.22 2.32v4.64l4.22 2.32l4.22 -2.32zM434.0 621.76l-4.22 -2.32l-4.22 2.32v4.64l4.22 2.32l4.22 -2.32zM442.5 621.76l-4.22 -2.32l-4.22 2.32v4.64l4.22 2.32l4.22 -2.32zM450.9 621.76l-4.22 -2.32l-4.22 2.32v4.64l4.22 2.32l4.22 -2.32zM459.4 621.76l-4.22 -2.32l-4.22 2.32v4.64l4.22 2.32l4.22 -2.32zM526.9 621.76l-4.22 -2.32l-4.22 2.32v4.64l4.22 2.32l4.22 -2.32zM159.5 628.75l-4.22 -2.32l-4.22 2.32v4.64l4.22 2.32l4.22 -2.32zM168.0 628.75l-4.22 -2.32l-4.22 2.32v4.64l4.22 2.32l4.22 -2.32zM176.4 628.75l-4.22 -2.32l-4.22 2.32v4.64l4.22 2.32l4.22 -2.32zM184.9 628.75l-4.22 -2.32l-4.22 2.32v4.64l4.22 2.32l4.22 -2.32zM193.3 628.75l-4.22 -2.32l-4.22 2.32v4.64l4.22 2.32l4.22 -2.32zM201.8 628.75l-4.22 -2.32l-4.22 2.32v4.64l4.22 2.32l4.22 -2.32zM210.2 628.75l-4.22 -2.32l-4.22 2.32v4.64l4.22 2.32l4.22 -2.32zM218.6 628.75l-4.22 -2.32l-4.22 2.32v4.64l4.22 2.32l4.22 -2.32zM227.1 628.75l-4.22 -2.32l-4.22 2.32v4.64l4.22 2.32l4.22 -2.32zM235.5 628.75l-4.22 -2.32l-4.22 2.32v4.64l4.22 2.32l4.22 -2.32zM244.0 628.75l-4.22 -2.32l-4.22 2.32v4.64l4.22 2.32l4.22 -2.32zM252.4 628.75l-4.22 -2.32l-4.22 2.32v4.64l4.22 2.32l4.22 -2.32zM260.9 628.75l-4.22 -2.32l-4.22 2.32v4.64l4.22 2.32l4.22 -2.32zM269.3 628.75l-4.22 -2.32l-4.22 2.32v4.64l4.22 2.32l4.22 -2.32zM277.8 628.75l-4.22 -2.32l-4.22 2.32v4.64l4.22 2.32l4.22 -2.32zM286.2 628.75l-4.22 -2.32l-4.22 2.32v4.64l4.22 2.32l4.22 -2.32zM294.7 628.75l-4.22 -2.32l-4.22 2.32v4.64l4.22 2.32l4.22 -2.32zM303.1 628.75l-4.22 -2.32l-4.22 2.32v4.64l4.22 2.32l4.22 -2.32zM311.6 628.75l-4.22 -2.32l-4.22 2.32v4.64l4.22 2.32l4.22 -2.32zM320.0 628.75l-4.22 -2.32l-4.22 2.32v4.64l4.22 2.32l4.22 -2.32zM328.4 628.75l-4.22 -2.32l-4.22 2.32v4.64l4.22 2.32l4.22 -2.32zM336.9 628.75l-4.22 -2.32l-4.22 2.32v4.64l4.22 2.32l4.22 -2.32zM345.3 628.75l-4.22 -2.32l-4.22 2.32v4.64l4.22 2.32l4.22 -2.32zM353.8 628.75l-4.22 -2.32l-4.22 2.32v4.64l4.22 2.32l4.22 -2.32zM362.2 628.75l-4.22 -2.32l-4.22 2.32v4.64l4.22 2.32l4.22 -2.32zM370.7 628.75l-4.22 -2.32l-4.22 2.32v4.64l4.22 2.32l4.22 -2.32zM379.1 628.75l-4.22 -2.32l-4.22 2.32v4.64l4.22 2.32l4.22 -2.32zM412.9 628.75l-4.22 -2.32l-4.22 2.32v4.64l4.22 2.32l4.22 -2.32zM421.3 628.75l-4.22 -2.32l-4.22 2.32v4.64l4.22 2.32l4.22 -2.32zM429.8 628.75l-4.22 -2.32l-4.22 2.32v4.64l4.22 2.32l4.22 -2.32zM438.2 628.75l-4.22 -2.32l-4.22 2.32v4.64l4.22 2.32l4.22 -2.32zM446.7 628.75l-4.22 -2.32l-4.22 2.32v4.64l4.22 2.32l4.22 -2.32zM455.1 628.75l-4.22 -2.32l-4.22 2.32v4.64l4.22 2.32l4.22 -2.32zM463.6 628.75l-4.22 -2.32l-4.22 2.32v4.64l4.22 2.32l4.22 -2.32zM163.7 635.73l-4.22 -2.32l-4.22 2.32v4.64l4.22 2.32l4.22 -2.32zM172.2 635.73l-4.22 -2.32l-4.22 2.32v4.64l4.22 2.32l4.22 -2.32zM180.6 635.73l-4.22 -2.32l-4.22 2.32v4.64l4.22 2.32l4.22 -2.32zM189.1 635.73l-4.22 -2.32l-4.22 2.32v4.64l4.22 2.32l4.22 -2.32zM197.5 635.73l-4.22 -2.32l-4.22 2.32v4.64l4.22 2.32l4.22 -2.32zM206.0 635.73l-4.22 -2.32l-4.22 2.32v4.64l4.22 2.32l4.22 -2.32zM214.4 635.73l-4.22 -2.32l-4.22 2.32v4.64l4.22 2.32l4.22 -2.32zM222.9 635.73l-4.22 -2.32l-4.22 2.32v4.64l4.22 2.32l4.22 -2.32zM231.3 635.73l-4.22 -2.32l-4.22 2.32v4.64l4.22 2.32l4.22 -2.32zM239.8 635.73l-4.22 -2.32l-4.22 2.32v4.64l4.22 2.32l4.22 -2.32zM248.2 635.73l-4.22 -2.32l-4.22 2.32v4.64l4.22 2.32l4.22 -2.32zM256.7 635.73l-4.22 -2.32l-4.22 2.32v4.64l4.22 2.32l4.22 -2.32zM265.1 635.73l-4.22 -2.32l-4.22 2.32v4.64l4.22 2.32l4.22 -2.32zM273.5 635.73l-4.22 -2.32l-4.22 2.32v4.64l4.22 2.32l4.22 -2.32zM282.0 635.73l-4.22 -2.32l-4.22 2.32v4.64l4.22 2.32l4.22 -2.32zM290.4 635.73l-4.22 -2.32l-4.22 2.32v4.64l4.22 2.32l4.22 -2.32zM298.9 635.73l-4.22 -2.32l-4.22 2.32v4.64l4.22 2.32l4.22 -2.32zM307.3 635.73l-4.22 -2.32l-4.22 2.32v4.64l4.22 2.32l4.22 -2.32zM315.8 635.73l-4.22 -2.32l-4.22 2.32v4.64l4.22 2.32l4.22 -2.32zM324.2 635.73l-4.22 -2.32l-4.22 2.32v4.64l4.22 2.32l4.22 -2.32zM332.7 635.73l-4.22 -2.32l-4.22 2.32v4.64l4.22 2.32l4.22 -2.32zM341.1 635.73l-4.22 -2.32l-4.22 2.32v4.64l4.22 2.32l4.22 -2.32zM349.6 635.73l-4.22 -2.32l-4.22 2.32v4.64l4.22 2.32l4.22 -2.32zM358.0 635.73l-4.22 -2.32l-4.22 2.32v4.64l4.22 2.32l4.22 -2.32zM400.2 635.73l-4.22 -2.32l-4.22 2.32v4.64l4.22 2.32l4.22 -2.32zM408.7 635.73l-4.22 -2.32l-4.22 2.32v4.64l4.22 2.32l4.22 -2.32zM417.1 635.73l-4.22 -2.32l-4.22 2.32v4.64l4.22 2.32l4.22 -2.32zM425.6 635.73l-4.22 -2.32l-4.22 2.32v4.64l4.22 2.32l4.22 -2.32zM434.0 635.73l-4.22 -2.32l-4.22 2.32v4.64l4.22 2.32l4.22 -2.32zM442.5 635.73l-4.22 -2.32l-4.22 2.32v4.64l4.22 2.32l4.22 -2.32zM450.9 635.73l-4.22 -2.32l-4.22 2.32v4.64l4.22 2.32l4.22 -2.32zM459.4 635.73l-4.22 -2.32l-4.22 2.32v4.64l4.22 2.32l4.22 -2.32zM467.8 635.73l-4.22 -2.32l-4.22 2.32v4.64l4.22 2.32l4.22 -2.32zM159.5 642.72l-4.22 -2.32l-4.22 2.32v4.64l4.22 2.32l4.22 -2.32zM168.0 642.72l-4.22 -2.32l-4.22 2.32v4.64l4.22 2.32l4.22 -2.32zM176.4 642.72l-4.22 -2.32l-4.22 2.32v4.64l4.22 2.32l4.22 -2.32zM184.9 642.72l-4.22 -2.32l-4.22 2.32v4.64l4.22 2.32l4.22 -2.32zM193.3 642.72l-4.22 -2.32l-4.22 2.32v4.64l4.22 2.32l4.22 -2.32zM201.8 642.72l-4.22 -2.32l-4.22 2.32v4.64l4.22 2.32l4.22 -2.32zM210.2 642.72l-4.22 -2.32l-4.22 2.32v4.64l4.22 2.32l4.22 -2.32zM218.6 642.72l-4.22 -2.32l-4.22 2.32v4.64l4.22 2.32l4.22 -2.32zM227.1 642.72l-4.22 -2.32l-4.22 2.32v4.64l4.22 2.32l4.22 -2.32zM235.5 642.72l-4.22 -2.32l-4.22 2.32v4.64l4.22 2.32l4.22 -2.32zM244.0 642.72l-4.22 -2.32l-4.22 2.32v4.64l4.22 2.32l4.22 -2.32zM252.4 642.72l-4.22 -2.32l-4.22 2.32v4.64l4.22 2.32l4.22 -2.32zM260.9 642.72l-4.22 -2.32l-4.22 2.32v4.64l4.22 2.32l4.22 -2.32zM269.3 642.72l-4.22 -2.32l-4.22 2.32v4.64l4.22 2.32l4.22 -2.32zM277.8 642.72l-4.22 -2.32l-4.22 2.32v4.64l4.22 2.32l4.22 -2.32zM286.2 642.72l-4.22 -2.32l-4.22 2.32v4.64l4.22 2.32l4.22 -2.32zM294.7 642.72l-4.22 -2.32l-4.22 2.32v4.64l4.22 2.32l4.22 -2.32zM303.1 642.72l-4.22 -2.32l-4.22 2.32v4.64l4.22 2.32l4.22 -2.32zM311.6 642.72l-4.22 -2.32l-4.22 2.32v4.64l4.22 2.32l4.22 -2.32zM320.0 642.72l-4.22 -2.32l-4.22 2.32v4.64l4.22 2.32l4.22 -2.32zM328.4 642.72l-4.22 -2.32l-4.22 2.32v4.64l4.22 2.32l4.22 -2.32zM336.9 642.72l-4.22 -2.32l-4.22 2.32v4.64l4.22 2.32l4.22 -2.32zM345.3 642.72l-4.22 -2.32l-4.22 2.32v4.64l4.22 2.32l4.22 -2.32zM353.8 642.72l-4.22 -2.32l-4.22 2.32v4.64l4.22 2.32l4.22 -2.32zM362.2 642.72l-4.22 -2.32l-4.22 2.32v4.64l4.22 2.32l4.22 -2.32zM396.0 642.72l-4.22 -2.32l-4.22 2.32v4.64l4.22 2.32l4.22 -2.32zM404.5 642.72l-4.22 -2.32l-4.22 2.32v4.64l4.22 2.32l4.22 -2.32zM412.9 642.72l-4.22 -2.32l-4.22 2.32v4.64l4.22 2.32l4.22 -2.32zM421.3 642.72l-4.22 -2.32l-4.22 2.32v4.64l4.22 2.32l4.22 -2.32zM429.8 642.72l-4.22 -2.32l-4.22 2.32v4.64l4.22 2.32l4.22 -2.32zM438.2 642.72l-4.22 -2.32l-4.22 2.32v4.64l4.22 2.32l4.22 -2.32zM446.7 642.72l-4.22 -2.32l-4.22 2.32v4.64l4.22 2.32l4.22 -2.32zM455.1 642.72l-4.22 -2.32l-4.22 2.32v4.64l4.22 2.32l4.22 -2.32zM543.8 468.05l-4.22 -2.32l-4.22 2.32v4.64l4.22 2.32l4.22 -2.32zM552.3 468.05l-4.22 -2.32l-4.22 2.32v4.64l4.22 2.32l4.22 -2.32zM569.2 468.05l-4.22 -2.32l-4.22 2.32v4.64l4.22 2.32l4.22 -2.32zM577.6 468.05l-4.22 -2.32l-4.22 2.32v4.64l4.22 2.32l4.22 -2.32zM586.0 468.05l-4.22 -2.32l-4.22 2.32v4.64l4.22 2.32l4.22 -2.32zM594.5 468.05l-4.22 -2.32l-4.22 2.32v4.64l4.22 2.32l4.22 -2.32zM391.8 649.71l-4.22 -2.32l-4.22 2.32v4.64l4.22 2.32l4.22 -2.32zM400.2 649.71l-4.22 -2.32l-4.22 2.32v4.64l4.22 2.32l4.22 -2.32zM408.7 649.71l-4.22 -2.32l-4.22 2.32v4.64l4.22 2.32l4.22 -2.32zM417.1 649.71l-4.22 -2.32l-4.22 2.32v4.64l4.22 2.32l4.22 -2.32zM425.6 649.71l-4.22 -2.32l-4.22 2.32v4.64l4.22 2.32l4.22 -2.32zM434.0 649.71l-4.22 -2.32l-4.22 2.32v4.64l4.22 2.32l4.22 -2.32zM450.9 649.71l-4.22 -2.32l-4.22 2.32v4.64l4.22 2.32l4.22 -2.32zM459.4 649.71l-4.22 -2.32l-4.22 2.32v4.64l4.22 2.32l4.22 -2.32zM518.5 649.71l-4.22 -2.32l-4.22 2.32v4.64l4.22 2.32l4.22 -2.32zM379.1 656.69l-4.22 -2.32l-4.22 2.32v4.64l4.22 2.32l4.22 -2.32zM387.6 656.69l-4.22 -2.32l-4.22 2.32v4.64l4.22 2.32l4.22 -2.32zM396.0 656.69l-4.22 -2.32l-4.22 2.32v4.64l4.22 2.32l4.22 -2.32zM404.5 656.69l-4.22 -2.32l-4.22 2.32v4.64l4.22 2.32l4.22 -2.32zM412.9 656.69l-4.22 -2.32l-4.22 2.32v4.64l4.22 2.32l4.22 -2.32zM421.3 656.69l-4.22 -2.32l-4.22 2.32v4.64l4.22 2.32l4.22 -2.32zM429.8 656.69l-4.22 -2.32l-4.22 2.32v4.64l4.22 2.32l4.22 -2.32zM438.2 656.69l-4.22 -2.32l-4.22 2.32v4.64l4.22 2.32l4.22 -2.32zM446.7 656.69l-4.22 -2.32l-4.22 2.32v4.64l4.22 2.32l4.22 -2.32zM455.1 656.69l-4.22 -2.32l-4.22 2.32v4.64l4.22 2.32l4.22 -2.32zM383.3 663.68l-4.22 -2.32l-4.22 2.32v4.64l4.22 2.32l4.22 -2.32zM391.8 663.68l-4.22 -2.32l-4.22 2.32v4.64l4.22 2.32l4.22 -2.32zM400.2 663.68l-4.22 -2.32l-4.22 2.32v4.64l4.22 2.32l4.22 -2.32zM408.7 663.68l-4.22 -2.32l-4.22 2.32v4.64l4.22 2.32l4.22 -2.32zM417.1 663.68l-4.22 -2.32l-4.22 2.32v4.64l4.22 2.32l4.22 -2.32zM425.6 663.68l-4.22 -2.32l-4.22 2.32v4.64l4.22 2.32l4.22 -2.32zM434.0 663.68l-4.22 -2.32l-4.22 2.32v4.64l4.22 2.32l4.22 -2.32zM442.5 663.68l-4.22 -2.32l-4.22 2.32v4.64l4.22 2.32l4.22 -2.32zM379.1 670.67l-4.22 -2.32l-4.22 2.32v4.64l4.22 2.32l4.22 -2.32zM387.6 670.67l-4.22 -2.32l-4.22 2.32v4.64l4.22 2.32l4.22 -2.32zM396.0 670.67l-4.22 -2.32l-4.22 2.32v4.64l4.22 2.32l4.22 -2.32zM404.5 670.67l-4.22 -2.32l-4.22 2.32v4.64l4.22 2.32l4.22 -2.32zM412.9 670.67l-4.22 -2.32l-4.22 2.32v4.64l4.22 2.32l4.22 -2.32zM421.3 670.67l-4.22 -2.32l-4.22 2.32v4.64l4.22 2.32l4.22 -2.32zM429.8 670.67l-4.22 -2.32l-4.22 2.32v4.64l4.22 2.32l4.22 -2.32zM438.2 670.67l-4.22 -2.32l-4.22 2.32v4.64l4.22 2.32l4.22 -2.32zM446.7 670.67l-4.22 -2.32l-4.22 2.32v4.64l4.22 2.32l4.22 -2.32zM383.3 677.66l-4.22 -2.32l-4.22 2.32v4.64l4.22 2.32l4.22 -2.32zM391.8 677.66l-4.22 -2.32l-4.22 2.32v4.64l4.22 2.32l4.22 -2.32zM400.2 677.66l-4.22 -2.32l-4.22 2.32v4.64l4.22 2.32l4.22 -2.32zM408.7 677.66l-4.22 -2.32l-4.22 2.32v4.64l4.22 2.32l4.22 -2.32zM417.1 677.66l-4.22 -2.32l-4.22 2.32v4.64l4.22 2.32l4.22 -2.32zM425.6 677.66l-4.22 -2.32l-4.22 2.32v4.64l4.22 2.32l4.22 -2.32zM442.5 677.66l-4.22 -2.32l-4.22 2.32v4.64l4.22 2.32l4.22 -2.32zM450.9 677.66l-4.22 -2.32l-4.22 2.32v4.64l4.22 2.32l4.22 -2.32zM379.1 684.64l-4.22 -2.32l-4.22 2.32v4.64l4.22 2.32l4.22 -2.32zM387.6 684.64l-4.22 -2.32l-4.22 2.32v4.64l4.22 2.32l4.22 -2.32zM396.0 684.64l-4.22 -2.32l-4.22 2.32v4.64l4.22 2.32l4.22 -2.32zM404.5 684.64l-4.22 -2.32l-4.22 2.32v4.64l4.22 2.32l4.22 -2.32zM412.9 684.64l-4.22 -2.32l-4.22 2.32v4.64l4.22 2.32l4.22 -2.32zM421.3 684.64l-4.22 -2.32l-4.22 2.32v4.64l4.22 2.32l4.22 -2.32zM429.8 684.64l-4.22 -2.32l-4.22 2.32v4.64l4.22 2.32l4.22 -2.32zM438.2 684.64l-4.22 -2.32l-4.22 2.32v4.64l4.22 2.32l4.22 -2.32zM446.7 684.64l-4.22 -2.32l-4.22 2.32v4.64l4.22 2.32l4.22 -2.32zM497.4 684.64l-4.22 -2.32l-4.22 2.32v4.64l4.22 2.32l4.22 -2.32zM383.3 691.63l-4.22 -2.32l-4.22 2.32v4.64l4.22 2.32l4.22 -2.32zM391.8 691.63l-4.22 -2.32l-4.22 2.32v4.64l4.22 2.32l4.22 -2.32zM400.2 691.63l-4.22 -2.32l-4.22 2.32v4.64l4.22 2.32l4.22 -2.32zM408.7 691.63l-4.22 -2.32l-4.22 2.32v4.64l4.22 2.32l4.22 -2.32zM417.1 691.63l-4.22 -2.32l-4.22 2.32v4.64l4.22 2.32l4.22 -2.32zM425.6 691.63l-4.22 -2.32l-4.22 2.32v4.64l4.22 2.32l4.22 -2.32zM434.0 691.63l-4.22 -2.32l-4.22 2.32v4.64l4.22 2.32l4.22 -2.32zM442.5 691.63l-4.22 -2.32l-4.22 2.32v4.64l4.22 2.32l4.22 -2.32zM379.1 698.62l-4.22 -2.32l-4.22 2.32v4.64l4.22 2.32l4.22 -2.32zM387.6 698.62l-4.22 -2.32l-4.22 2.32v4.64l4.22 2.32l4.22 -2.32zM396.0 698.62l-4.22 -2.32l-4.22 2.32v4.64l4.22 2.32l4.22 -2.32zM404.5 698.62l-4.22 -2.32l-4.22 2.32v4.64l4.22 2.32l4.22 -2.32zM412.9 698.62l-4.22 -2.32l-4.22 2.32v4.64l4.22 2.32l4.22 -2.32zM421.3 698.62l-4.22 -2.32l-4.22 2.32v4.64l4.22 2.32l4.22 -2.32zM429.8 698.62l-4.22 -2.32l-4.22 2.32v4.64l4.22 2.32l4.22 -2.32zM438.2 698.62l-4.22 -2.32l-4.22 2.32v4.64l4.22 2.32l4.22 -2.32zM455.1 698.62l-4.22 -2.32l-4.22 2.32v4.64l4.22 2.32l4.22 -2.32zM383.3 705.60l-4.22 -2.32l-4.22 2.32v4.64l4.22 2.32l4.22 -2.32zM391.8 705.60l-4.22 -2.32l-4.22 2.32v4.64l4.22 2.32l4.22 -2.32zM400.2 705.60l-4.22 -2.32l-4.22 2.32v4.64l4.22 2.32l4.22 -2.32zM408.7 705.60l-4.22 -2.32l-4.22 2.32v4.64l4.22 2.32l4.22 -2.32zM417.1 705.60l-4.22 -2.32l-4.22 2.32v4.64l4.22 2.32l4.22 -2.32zM425.6 705.60l-4.22 -2.32l-4.22 2.32v4.64l4.22 2.32l4.22 -2.32zM434.0 705.60l-4.22 -2.32l-4.22 2.32v4.64l4.22 2.32l4.22 -2.32zM379.1 712.59l-4.22 -2.32l-4.22 2.32v4.64l4.22 2.32l4.22 -2.32zM387.6 712.59l-4.22 -2.32l-4.22 2.32v4.64l4.22 2.32l4.22 -2.32zM396.0 712.59l-4.22 -2.32l-4.22 2.32v4.64l4.22 2.32l4.22 -2.32zM404.5 712.59l-4.22 -2.32l-4.22 2.32v4.64l4.22 2.32l4.22 -2.32zM412.9 712.59l-4.22 -2.32l-4.22 2.32v4.64l4.22 2.32l4.22 -2.32zM421.3 712.59l-4.22 -2.32l-4.22 2.32v4.64l4.22 2.32l4.22 -2.32zM429.8 712.59l-4.22 -2.32l-4.22 2.32v4.64l4.22 2.32l4.22 -2.32zM383.3 719.58l-4.22 -2.32l-4.22 2.32v4.64l4.22 2.32l4.22 -2.32zM391.8 719.58l-4.22 -2.32l-4.22 2.32v4.64l4.22 2.32l4.22 -2.32zM400.2 719.58l-4.22 -2.32l-4.22 2.32v4.64l4.22 2.32l4.22 -2.32zM408.7 719.58l-4.22 -2.32l-4.22 2.32v4.64l4.22 2.32l4.22 -2.32zM417.1 719.58l-4.22 -2.32l-4.22 2.32v4.64l4.22 2.32l4.22 -2.32zM425.6 719.58l-4.22 -2.32l-4.22 2.32v4.64l4.22 2.32l4.22 -2.32zM379.1 726.56l-4.22 -2.32l-4.22 2.32v4.64l4.22 2.32l4.22 -2.32zM387.6 726.56l-4.22 -2.32l-4.22 2.32v4.64l4.22 2.32l4.22 -2.32zM396.0 726.56l-4.22 -2.32l-4.22 2.32v4.64l4.22 2.32l4.22 -2.32zM404.5 726.56l-4.22 -2.32l-4.22 2.32v4.64l4.22 2.32l4.22 -2.32zM412.9 726.56l-4.22 -2.32l-4.22 2.32v4.64l4.22 2.32l4.22 -2.32zM421.3 726.56l-4.22 -2.32l-4.22 2.32v4.64l4.22 2.32l4.22 -2.32zM438.2 726.56l-4.22 -2.32l-4.22 2.32v4.64l4.22 2.32l4.22 -2.32zM383.3 733.55l-4.22 -2.32l-4.22 2.32v4.64l4.22 2.32l4.22 -2.32zM391.8 733.55l-4.22 -2.32l-4.22 2.32v4.64l4.22 2.32l4.22 -2.32zM400.2 733.55l-4.22 -2.32l-4.22 2.32v4.64l4.22 2.32l4.22 -2.32zM408.7 733.55l-4.22 -2.32l-4.22 2.32v4.64l4.22 2.32l4.22 -2.32zM417.1 733.55l-4.22 -2.32l-4.22 2.32v4.64l4.22 2.32l4.22 -2.32zM434.0 733.55l-4.22 -2.32l-4.22 2.32v4.64l4.22 2.32l4.22 -2.32zM379.1 740.54l-4.22 -2.32l-4.22 2.32v4.64l4.22 2.32l4.22 -2.32zM387.6 740.54l-4.22 -2.32l-4.22 2.32v4.64l4.22 2.32l4.22 -2.32zM396.0 740.54l-4.22 -2.32l-4.22 2.32v4.64l4.22 2.32l4.22 -2.32zM404.5 740.54l-4.22 -2.32l-4.22 2.32v4.64l4.22 2.32l4.22 -2.32zM412.9 740.54l-4.22 -2.32l-4.22 2.32v4.64l4.22 2.32l4.22 -2.32zM421.3 740.54l-4.22 -2.32l-4.22 2.32v4.64l4.22 2.32l4.22 -2.32zM429.8 740.54l-4.22 -2.32l-4.22 2.32v4.64l4.22 2.32l4.22 -2.32zM438.2 740.54l-4.22 -2.32l-4.22 2.32v4.64l4.22 2.32l4.22 -2.32zM383.3 747.53l-4.22 -2.32l-4.22 2.32v4.64l4.22 2.32l4.22 -2.32zM391.8 747.53l-4.22 -2.32l-4.22 2.32v4.64l4.22 2.32l4.22 -2.32zM400.2 747.53l-4.22 -2.32l-4.22 2.32v4.64l4.22 2.32l4.22 -2.32zM417.1 747.53l-4.22 -2.32l-4.22 2.32v4.64l4.22 2.32l4.22 -2.32zM379.1 754.51l-4.22 -2.32l-4.22 2.32v4.64l4.22 2.32l4.22 -2.32zM387.6 754.51l-4.22 -2.32l-4.22 2.32v4.64l4.22 2.32l4.22 -2.32zM396.0 754.51l-4.22 -2.32l-4.22 2.32v4.64l4.22 2.32l4.22 -2.32zM404.5 754.51l-4.22 -2.32l-4.22 2.32v4.64l4.22 2.32l4.22 -2.32zM412.9 754.51l-4.22 -2.32l-4.22 2.32v4.64l4.22 2.32l4.22 -2.32zM421.3 754.51l-4.22 -2.32l-4.22 2.32v4.64l4.22 2.32l4.22 -2.32zM383.3 761.50l-4.22 -2.32l-4.22 2.32v4.64l4.22 2.32l4.22 -2.32zM391.8 761.50l-4.22 -2.32l-4.22 2.32v4.64l4.22 2.32l4.22 -2.32zM408.7 761.50l-4.22 -2.32l-4.22 2.32v4.64l4.22 2.32l4.22 -2.32zM417.1 761.50l-4.22 -2.32l-4.22 2.32v4.64l4.22 2.32l4.22 -2.32zM379.1 768.49l-4.22 -2.32l-4.22 2.32v4.64l4.22 2.32l4.22 -2.32zM387.6 768.49l-4.22 -2.32l-4.22 2.32v4.64l4.22 2.32l4.22 -2.32zM396.0 768.49l-4.22 -2.32l-4.22 2.32v4.64l4.22 2.32l4.22 -2.32zM404.5 768.49l-4.22 -2.32l-4.22 2.32v4.64l4.22 2.32l4.22 -2.32zM412.9 768.49l-4.22 -2.32l-4.22 2.32v4.64l4.22 2.32l4.22 -2.32zM429.8 768.49l-4.22 -2.32l-4.22 2.32v4.64l4.22 2.32l4.22 -2.32zM383.3 775.47l-4.22 -2.32l-4.22 2.32v4.64l4.22 2.32l4.22 -2.32zM391.8 775.47l-4.22 -2.32l-4.22 2.32v4.64l4.22 2.32l4.22 -2.32zM400.2 775.47l-4.22 -2.32l-4.22 2.32v4.64l4.22 2.32l4.22 -2.32zM408.7 775.47l-4.22 -2.32l-4.22 2.32v4.64l4.22 2.32l4.22 -2.32zM425.6 775.47l-4.22 -2.32l-4.22 2.32v4.64l4.22 2.32l4.22 -2.32zM379.1 782.46l-4.22 -2.32l-4.22 2.32v4.64l4.22 2.32l4.22 -2.32zM387.6 782.46l-4.22 -2.32l-4.22 2.32v4.64l4.22 2.32l4.22 -2.32zM396.0 782.46l-4.22 -2.32l-4.22 2.32v4.64l4.22 2.32l4.22 -2.32zM404.5 782.46l-4.22 -2.32l-4.22 2.32v4.64l4.22 2.32l4.22 -2.32zM412.9 782.46l-4.22 -2.32l-4.22 2.32v4.64l4.22 2.32l4.22 -2.32zM421.3 782.46l-4.22 -2.32l-4.22 2.32v4.64l4.22 2.32l4.22 -2.32zM438.2 782.46l-4.22 -2.32l-4.22 2.32v4.64l4.22 2.32l4.22 -2.32zM383.3 789.45l-4.22 -2.32l-4.22 2.32v4.64l4.22 2.32l4.22 -2.32zM391.8 789.45l-4.22 -2.32l-4.22 2.32v4.64l4.22 2.32l4.22 -2.32zM400.2 789.45l-4.22 -2.32l-4.22 2.32v4.64l4.22 2.32l4.22 -2.32zM442.5 789.45l-4.22 -2.32l-4.22 2.32v4.64l4.22 2.32l4.22 -2.32zM379.1 796.43l-4.22 -2.32l-4.22 2.32v4.64l4.22 2.32l4.22 -2.32zM387.6 796.43l-4.22 -2.32l-4.22 2.32v4.64l4.22 2.32l4.22 -2.32zM396.0 796.43l-4.22 -2.32l-4.22 2.32v4.64l4.22 2.32l4.22 -2.32zM383.3 803.42l-4.22 -2.32l-4.22 2.32v4.64l4.22 2.32l4.22 -2.32zM391.8 803.42l-4.22 -2.32l-4.22 2.32v4.64l4.22 2.32l4.22 -2.32zM400.2 803.42l-4.22 -2.32l-4.22 2.32v4.64l4.22 2.32l4.22 -2.32zM379.1 810.41l-4.22 -2.32l-4.22 2.32v4.64l4.22 2.32l4.22 -2.32zM387.6 810.41l-4.22 -2.32l-4.22 2.32v4.64l4.22 2.32l4.22 -2.32zM396.0 810.41l-4.22 -2.32l-4.22 2.32v4.64l4.22 2.32l4.22 -2.32zM412.9 810.41l-4.22 -2.32l-4.22 2.32v4.64l4.22 2.32l4.22 -2.32zM383.3 817.40l-4.22 -2.32l-4.22 2.32v4.64l4.22 2.32l4.22 -2.32zM391.8 817.40l-4.22 -2.32l-4.22 2.32v4.64l4.22 2.32l4.22 -2.32zM400.2 817.40l-4.22 -2.32l-4.22 2.32v4.64l4.22 2.32l4.22 -2.32zM408.7 817.40l-4.22 -2.32l-4.22 2.32v4.64l4.22 2.32l4.22 -2.32zM379.1 824.38l-4.22 -2.32l-4.22 2.32v4.64l4.22 2.32l4.22 -2.32zM387.6 824.38l-4.22 -2.32l-4.22 2.32v4.64l4.22 2.32l4.22 -2.32zM396.0 824.38l-4.22 -2.32l-4.22 2.32v4.64l4.22 2.32l4.22 -2.32zM404.5 824.38l-4.22 -2.32l-4.22 2.32v4.64l4.22 2.32l4.22 -2.32zM412.9 824.38l-4.22 -2.32l-4.22 2.32v4.64l4.22 2.32l4.22 -2.32zM421.3 824.38l-4.22 -2.32l-4.22 2.32v4.64l4.22 2.32l4.22 -2.32zM383.3 831.37l-4.22 -2.32l-4.22 2.32v4.64l4.22 2.32l4.22 -2.32zM391.8 831.37l-4.22 -2.32l-4.22 2.32v4.64l4.22 2.32l4.22 -2.32zM400.2 831.37l-4.22 -2.32l-4.22 2.32v4.64l4.22 2.32l4.22 -2.32zM408.7 831.37l-4.22 -2.32l-4.22 2.32v4.64l4.22 2.32l4.22 -2.32zM379.1 838.36l-4.22 -2.32l-4.22 2.32v4.64l4.22 2.32l4.22 -2.32zM387.6 838.36l-4.22 -2.32l-4.22 2.32v4.64l4.22 2.32l4.22 -2.32zM396.0 838.36l-4.22 -2.32l-4.22 2.32v4.64l4.22 2.32l4.22 -2.32zM404.5 838.36l-4.22 -2.32l-4.22 2.32v4.64l4.22 2.32l4.22 -2.32zM383.3 845.34l-4.22 -2.32l-4.22 2.32v4.64l4.22 2.32l4.22 -2.32zM391.8 845.34l-4.22 -2.32l-4.22 2.32v4.64l4.22 2.32l4.22 -2.32zM400.2 845.34l-4.22 -2.32l-4.22 2.32v4.64l4.22 2.32l4.22 -2.32zM408.7 845.34l-4.22 -2.32l-4.22 2.32v4.64l4.22 2.32l4.22 -2.32zM379.1 852.33l-4.22 -2.32l-4.22 2.32v4.64l4.22 2.32l4.22 -2.32zM387.6 852.33l-4.22 -2.32l-4.22 2.32v4.64l4.22 2.32l4.22 -2.32zM573.4 461.06l-4.22 -2.32l-4.22 2.32v4.64l4.22 2.32l4.22 -2.32zM581.8 461.06l-4.22 -2.32l-4.22 2.32v4.64l4.22 2.32l4.22 -2.32zM590.3 461.06l-4.22 -2.32l-4.22 2.32v4.64l4.22 2.32l4.22 -2.32zM598.7 461.06l-4.22 -2.32l-4.22 2.32v4.64l4.22 2.32l4.22 -2.32zM535.4 454.07l-4.22 -2.32l-4.22 2.32v4.64l4.22 2.32l4.22 -2.32zM560.7 454.07l-4.22 -2.32l-4.22 2.32v4.64l4.22 2.32l4.22 -2.32zM569.2 454.07l-4.22 -2.32l-4.22 2.32v4.64l4.22 2.32l4.22 -2.32zM586.0 454.07l-4.22 -2.32l-4.22 2.32v4.64l4.22 2.32l4.22 -2.32zM594.5 454.07l-4.22 -2.32l-4.22 2.32v4.64l4.22 2.32l4.22 -2.32zM602.9 454.07l-4.22 -2.32l-4.22 2.32v4.64l4.22 2.32l4.22 -2.32zM564.9 447.08l-4.22 -2.32l-4.22 2.32v4.64l4.22 2.32l4.22 -2.32zM573.4 447.08l-4.22 -2.32l-4.22 2.32v4.64l4.22 2.32l4.22 -2.32zM590.3 447.08l-4.22 -2.32l-4.22 2.32v4.64l4.22 2.32l4.22 -2.32zM598.7 447.08l-4.22 -2.32l-4.22 2.32v4.64l4.22 2.32l4.22 -2.32zM607.2 447.08l-4.22 -2.32l-4.22 2.32v4.64l4.22 2.32l4.22 -2.32zM615.6 447.08l-4.22 -2.32l-4.22 2.32v4.64l4.22 2.32l4.22 -2.32zM552.3 440.10l-4.22 -2.32l-4.22 2.32v4.64l4.22 2.32l4.22 -2.32zM560.7 440.10l-4.22 -2.32l-4.22 2.32v4.64l4.22 2.32l4.22 -2.32zM569.2 440.10l-4.22 -2.32l-4.22 2.32v4.64l4.22 2.32l4.22 -2.32zM577.6 440.10l-4.22 -2.32l-4.22 2.32v4.64l4.22 2.32l4.22 -2.32zM602.9 440.10l-4.22 -2.32l-4.22 2.32v4.64l4.22 2.32l4.22 -2.32zM611.4 440.10l-4.22 -2.32l-4.22 2.32v4.64l4.22 2.32l4.22 -2.32zM581.8 433.11l-4.22 -2.32l-4.22 2.32v4.64l4.22 2.32l4.22 -2.32zM590.3 433.11l-4.22 -2.32l-4.22 2.32v4.64l4.22 2.32l4.22 -2.32zM607.2 433.11l-4.22 -2.32l-4.22 2.32v4.64l4.22 2.32l4.22 -2.32zM615.6 433.11l-4.22 -2.32l-4.22 2.32v4.64l4.22 2.32l4.22 -2.32zM632.5 433.11l-4.22 -2.32l-4.22 2.32v4.64l4.22 2.32l4.22 -2.32zM649.4 433.11l-4.22 -2.32l-4.22 2.32v4.64l4.22 2.32l4.22 -2.32zM657.8 433.11l-4.22 -2.32l-4.22 2.32v4.64l4.22 2.32l4.22 -2.32zM594.5 426.12l-4.22 -2.32l-4.22 2.32v4.64l4.22 2.32l4.22 -2.32zM602.9 426.12l-4.22 -2.32l-4.22 2.32v4.64l4.22 2.32l4.22 -2.32zM611.4 426.12l-4.22 -2.32l-4.22 2.32v4.64l4.22 2.32l4.22 -2.32zM619.8 426.12l-4.22 -2.32l-4.22 2.32v4.64l4.22 2.32l4.22 -2.32zM628.3 426.12l-4.22 -2.32l-4.22 2.32v4.64l4.22 2.32l4.22 -2.32zM636.7 426.12l-4.22 -2.32l-4.22 2.32v4.64l4.22 2.32l4.22 -2.32zM653.6 426.12l-4.22 -2.32l-4.22 2.32v4.64l4.22 2.32l4.22 -2.32zM662.1 426.12l-4.22 -2.32l-4.22 2.32v4.64l4.22 2.32l4.22 -2.32zM598.7 419.14l-4.22 -2.32l-4.22 2.32v4.64l4.22 2.32l4.22 -2.32zM607.2 419.14l-4.22 -2.32l-4.22 2.32v4.64l4.22 2.32l4.22 -2.32zM615.6 419.14l-4.22 -2.32l-4.22 2.32v4.64l4.22 2.32l4.22 -2.32zM624.1 419.14l-4.22 -2.32l-4.22 2.32v4.64l4.22 2.32l4.22 -2.32zM632.5 419.14l-4.22 -2.32l-4.22 2.32v4.64l4.22 2.32l4.22 -2.32zM640.9 419.14l-4.22 -2.32l-4.22 2.32v4.64l4.22 2.32l4.22 -2.32zM657.8 419.14l-4.22 -2.32l-4.22 2.32v4.64l4.22 2.32l4.22 -2.32zM666.3 419.14l-4.22 -2.32l-4.22 2.32v4.64l4.22 2.32l4.22 -2.32zM611.4 412.15l-4.22 -2.32l-4.22 2.32v4.64l4.22 2.32l4.22 -2.32zM619.8 412.15l-4.22 -2.32l-4.22 2.32v4.64l4.22 2.32l4.22 -2.32zM628.3 412.15l-4.22 -2.32l-4.22 2.32v4.64l4.22 2.32l4.22 -2.32zM636.7 412.15l-4.22 -2.32l-4.22 2.32v4.64l4.22 2.32l4.22 -2.32zM615.6 405.16l-4.22 -2.32l-4.22 2.32v4.64l4.22 2.32l4.22 -2.32zM624.1 405.16l-4.22 -2.32l-4.22 2.32v4.64l4.22 2.32l4.22 -2.32zM632.5 405.16l-4.22 -2.32l-4.22 2.32v4.64l4.22 2.32l4.22 -2.32zM640.9 405.16l-4.22 -2.32l-4.22 2.32v4.64l4.22 2.32l4.22 -2.32zM619.8 398.18l-4.22 -2.32l-4.22 2.32v4.64l4.22 2.32l4.22 -2.32zM628.3 398.18l-4.22 -2.32l-4.22 2.32v4.64l4.22 2.32l4.22 -2.32zM636.7 398.18l-4.22 -2.32l-4.22 2.32v4.64l4.22 2.32l4.22 -2.32zM645.2 398.18l-4.22 -2.32l-4.22 2.32v4.64l4.22 2.32l4.22 -2.32zM653.6 398.18l-4.22 -2.32l-4.22 2.32v4.64l4.22 2.32l4.22 -2.32zM670.5 398.18l-4.22 -2.32l-4.22 2.32v4.64l4.22 2.32l4.22 -2.32zM632.5 391.19l-4.22 -2.32l-4.22 2.32v4.64l4.22 2.32l4.22 -2.32zM640.9 391.19l-4.22 -2.32l-4.22 2.32v4.64l4.22 2.32l4.22 -2.32zM649.4 391.19l-4.22 -2.32l-4.22 2.32v4.64l4.22 2.32l4.22 -2.32zM657.8 391.19l-4.22 -2.32l-4.22 2.32v4.64l4.22 2.32l4.22 -2.32zM683.2 391.19l-4.22 -2.32l-4.22 2.32v4.64l4.22 2.32l4.22 -2.32zM636.7 384.20l-4.22 -2.32l-4.22 2.32v4.64l4.22 2.32l4.22 -2.32zM645.2 384.20l-4.22 -2.32l-4.22 2.32v4.64l4.22 2.32l4.22 -2.32zM653.6 384.20l-4.22 -2.32l-4.22 2.32v4.64l4.22 2.32l4.22 -2.32zM662.1 384.20l-4.22 -2.32l-4.22 2.32v4.64l4.22 2.32l4.22 -2.32zM687.4 384.20l-4.22 -2.32l-4.22 2.32v4.64l4.22 2.32l4.22 -2.32zM695.8 384.20l-4.22 -2.32l-4.22 2.32v4.64l4.22 2.32l4.22 -2.32zM649.4 377.21l-4.22 -2.32l-4.22 2.32v4.64l4.22 2.32l4.22 -2.32zM657.8 377.21l-4.22 -2.32l-4.22 2.32v4.64l4.22 2.32l4.22 -2.32zM666.3 377.21l-4.22 -2.32l-4.22 2.32v4.64l4.22 2.32l4.22 -2.32zM674.7 377.21l-4.22 -2.32l-4.22 2.32v4.64l4.22 2.32l4.22 -2.32zM653.6 370.23l-4.22 -2.32l-4.22 2.32v4.64l4.22 2.32l4.22 -2.32zM662.1 370.23l-4.22 -2.32l-4.22 2.32v4.64l4.22 2.32l4.22 -2.32zM670.5 370.23l-4.22 -2.32l-4.22 2.32v4.64l4.22 2.32l4.22 -2.32zM679.0 370.23l-4.22 -2.32l-4.22 2.32v4.64l4.22 2.32l4.22 -2.32zM687.4 370.23l-4.22 -2.32l-4.22 2.32v4.64l4.22 2.32l4.22 -2.32zM657.8 363.24l-4.22 -2.32l-4.22 2.32v4.64l4.22 2.32l4.22 -2.32zM666.3 363.24l-4.22 -2.32l-4.22 2.32v4.64l4.22 2.32l4.22 -2.32zM674.7 363.24l-4.22 -2.32l-4.22 2.32v4.64l4.22 2.32l4.22 -2.32zM683.2 363.24l-4.22 -2.32l-4.22 2.32v4.64l4.22 2.32l4.22 -2.32zM691.6 363.24l-4.22 -2.32l-4.22 2.32v4.64l4.22 2.32l4.22 -2.32zM700.1 363.24l-4.22 -2.32l-4.22 2.32v4.64l4.22 2.32l4.22 -2.32zM670.5 356.25l-4.22 -2.32l-4.22 2.32v4.64l4.22 2.32l4.22 -2.32zM679.0 356.25l-4.22 -2.32l-4.22 2.32v4.64l4.22 2.32l4.22 -2.32zM687.4 356.25l-4.22 -2.32l-4.22 2.32v4.64l4.22 2.32l4.22 -2.32zM695.8 356.25l-4.22 -2.32l-4.22 2.32v4.64l4.22 2.32l4.22 -2.32zM674.7 349.27l-4.22 -2.32l-4.22 2.32v4.64l4.22 2.32l4.22 -2.32zM683.2 349.27l-4.22 -2.32l-4.22 2.32v4.64l4.22 2.32l4.22 -2.32zM691.6 349.27l-4.22 -2.32l-4.22 2.32v4.64l4.22 2.32l4.22 -2.32zM700.1 349.27l-4.22 -2.32l-4.22 2.32v4.64l4.22 2.32l4.22 -2.32zM708.5 349.27l-4.22 -2.32l-4.22 2.32v4.64l4.22 2.32l4.22 -2.32zM687.4 342.28l-4.22 -2.32l-4.22 2.32v4.64l4.22 2.32l4.22 -2.32zM695.8 342.28l-4.22 -2.32l-4.22 2.32v4.64l4.22 2.32l4.22 -2.32zM704.3 342.28l-4.22 -2.32l-4.22 2.32v4.64l4.22 2.32l4.22 -2.32zM712.7 342.28l-4.22 -2.32l-4.22 2.32v4.64l4.22 2.32l4.22 -2.32zM691.6 335.29l-4.22 -2.32l-4.22 2.32v4.64l4.22 2.32l4.22 -2.32zM700.1 335.29l-4.22 -2.32l-4.22 2.32v4.64l4.22 2.32l4.22 -2.32zM708.5 335.29l-4.22 -2.32l-4.22 2.32v4.64l4.22 2.32l4.22 -2.32zM717.0 335.29l-4.22 -2.32l-4.22 2.32v4.64l4.22 2.32l4.22 -2.32zM695.8 328.31l-4.22 -2.32l-4.22 2.32v4.64l4.22 2.32l4.22 -2.32zM704.3 328.31l-4.22 -2.32l-4.22 2.32v4.64l4.22 2.32l4.22 -2.32zM712.7 328.31l-4.22 -2.32l-4.22 2.32v4.64l4.22 2.32l4.22 -2.32zM721.2 328.31l-4.22 -2.32l-4.22 2.32v4.64l4.22 2.32l4.22 -2.32zM708.5 321.32l-4.22 -2.32l-4.22 2.32v4.64l4.22 2.32l4.22 -2.32zM717.0 321.32l-4.22 -2.32l-4.22 2.32v4.64l4.22 2.32l4.22 -2.32zM725.4 321.32l-4.22 -2.32l-4.22 2.32v4.64l4.22 2.32l4.22 -2.32zM712.7 314.33l-4.22 -2.32l-4.22 2.32v4.64l4.22 2.32l4.22 -2.32zM721.2 314.33l-4.22 -2.32l-4.22 2.32v4.64l4.22 2.32l4.22 -2.32zM729.6 314.33l-4.22 -2.32l-4.22 2.32v4.64l4.22 2.32l4.22 -2.32zM738.1 314.33l-4.22 -2.32l-4.22 2.32v4.64l4.22 2.32l4.22 -2.32zM725.4 307.34l-4.22 -2.32l-4.22 2.32v4.64l4.22 2.32l4.22 -2.32zM733.9 307.34l-4.22 -2.32l-4.22 2.32v4.64l4.22 2.32l4.22 -2.32zM742.3 307.34l-4.22 -2.32l-4.22 2.32v4.64l4.22 2.32l4.22 -2.32zM729.6 300.36l-4.22 -2.32l-4.22 2.32v4.64l4.22 2.32l4.22 -2.32zM738.1 300.36l-4.22 -2.32l-4.22 2.32v4.64l4.22 2.32l4.22 -2.32zM746.5 300.36l-4.22 -2.32l-4.22 2.32v4.64l4.22 2.32l4.22 -2.32zM755.0 300.36l-4.22 -2.32l-4.22 2.32v4.64l4.22 2.32l4.22 -2.32zM733.9 293.37l-4.22 -2.32l-4.22 2.32v4.64l4.22 2.32l4.22 -2.32zM742.3 293.37l-4.22 -2.32l-4.22 2.32v4.64l4.22 2.32l4.22 -2.32zM750.7 293.37l-4.22 -2.32l-4.22 2.32v4.64l4.22 2.32l4.22 -2.32zM746.5 286.38l-4.22 -2.32l-4.22 2.32v4.64l4.22 2.32l4.22 -2.32zM755.0 286.38l-4.22 -2.32l-4.22 2.32v4.64l4.22 2.32l4.22 -2.32zM763.4 286.38l-4.22 -2.32l-4.22 2.32v4.64l4.22 2.32l4.22 -2.32zM750.7 279.40l-4.22 -2.32l-4.22 2.32v4.64l4.22 2.32l4.22 -2.32zM759.2 279.40l-4.22 -2.32l-4.22 2.32v4.64l4.22 2.32l4.22 -2.32zM767.6 279.40l-4.22 -2.32l-4.22 2.32v4.64l4.22 2.32l4.22 -2.32zM763.4 272.41l-4.22 -2.32l-4.22 2.32v4.64l4.22 2.32l4.22 -2.32zM771.9 272.41l-4.22 -2.32l-4.22 2.32v4.64l4.22 2.32l4.22 -2.32zM767.6 265.42l-4.22 -2.32l-4.22 2.32v4.64l4.22 2.32l4.22 -2.32zM776.1 265.42l-4.22 -2.32l-4.22 2.32v4.64l4.22 2.32l4.22 -2.32zM784.5 265.42l-4.22 -2.32l-4.22 2.32v4.64l4.22 2.32l4.22 -2.32zM771.9 258.44l-4.22 -2.32l-4.22 2.32v4.64l4.22 2.32l4.22 -2.32zM780.3 258.44l-4.22 -2.32l-4.22 2.32v4.64l4.22 2.32l4.22 -2.32zM788.8 258.44l-4.22 -2.32l-4.22 2.32v4.64l4.22 2.32l4.22 -2.32zM784.5 251.45l-4.22 -2.32l-4.22 2.32v4.64l4.22 2.32l4.22 -2.32zM793.0 251.45l-4.22 -2.32l-4.22 2.32v4.64l4.22 2.32l4.22 -2.32zM788.8 244.46l-4.22 -2.32l-4.22 2.32v4.64l4.22 2.32l4.22 -2.32zM797.2 244.46l-4.22 -2.32l-4.22 2.32v4.64l4.22 2.32l4.22 -2.32zM805.6 244.46l-4.22 -2.32l-4.22 2.32v4.64l4.22 2.32l4.22 -2.32zM793.0 237.47l-4.22 -2.32l-4.22 2.32v4.64l4.22 2.32l4.22 -2.32zM801.4 237.47l-4.22 -2.32l-4.22 2.32v4.64l4.22 2.32l4.22 -2.32zM809.9 237.47l-4.22 -2.32l-4.22 2.32v4.64l4.22 2.32l4.22 -2.32zM805.6 230.49l-4.22 -2.32l-4.22 2.32v4.64l4.22 2.32l4.22 -2.32zM814.1 230.49l-4.22 -2.32l-4.22 2.32v4.64l4.22 2.32l4.22 -2.32zM822.5 230.49l-4.22 -2.32l-4.22 2.32v4.64l4.22 2.32l4.22 -2.32zM809.9 223.50l-4.22 -2.32l-4.22 2.32v4.64l4.22 2.32l4.22 -2.32zM818.3 223.50l-4.22 -2.32l-4.22 2.32v4.64l4.22 2.32l4.22 -2.32zM822.5 216.51l-4.22 -2.32l-4.22 2.32v4.64l4.22 2.32l4.22 -2.32zM831.0 216.51l-4.22 -2.32l-4.22 2.32v4.64l4.22 2.32l4.22 -2.32zM826.8 209.53l-4.22 -2.32l-4.22 2.32v4.64l4.22 2.32l4.22 -2.32zM835.2 209.53l-4.22 -2.32l-4.22 2.32v4.64l4.22 2.32l4.22 -2.32zM831.0 202.54l-4.22 -2.32l-4.22 2.32v4.64l4.22 2.32l4.22 -2.32zM839.4 202.54l-4.22 -2.32l-4.22 2.32v4.64l4.22 2.32l4.22 -2.32zM847.9 202.54l-4.22 -2.32l-4.22 2.32v4.64l4.22 2.32l4.22 -2.32zM843.6 195.55l-4.22 -2.32l-4.22 2.32v4.64l4.22 2.32l4.22 -2.32zM852.1 195.55l-4.22 -2.32l-4.22 2.32v4.64l4.22 2.32l4.22 -2.32zM847.9 188.57l-4.22 -2.32l-4.22 2.32v4.64l4.22 2.32l4.22 -2.32zM856.3 188.57l-4.22 -2.32l-4.22 2.32v4.64l4.22 2.32l4.22 -2.32zM852.1 181.58l-4.22 -2.32l-4.22 2.32v4.64l4.22 2.32l4.22 -2.32zM860.5 181.58l-4.22 -2.32l-4.22 2.32v4.64l4.22 2.32l4.22 -2.32zM869.0 181.58l-4.22 -2.32l-4.22 2.32v4.64l4.22 2.32l4.22 -2.32zM864.8 174.59l-4.22 -2.32l-4.22 2.32v4.64l4.22 2.32l4.22 -2.32zM873.2 174.59l-4.22 -2.32l-4.22 2.32v4.64l4.22 2.32l4.22 -2.32zM869.0 167.60l-4.22 -2.32l-4.22 2.32v4.64l4.22 2.32l4.22 -2.32zM877.4 167.60l-4.22 -2.32l-4.22 2.32v4.64l4.22 2.32l4.22 -2.32zM881.7 160.62l-4.22 -2.32l-4.22 2.32v4.64l4.22 2.32l4.22 -2.32zM890.1 160.62l-4.22 -2.32l-4.22 2.32v4.64l4.22 2.32l4.22 -2.32zM885.9 153.63l-4.22 -2.32l-4.22 2.32v4.64l4.22 2.32l4.22 -2.32zM894.3 153.63l-4.22 -2.32l-4.22 2.32v4.64l4.22 2.32l4.22 -2.32zM890.1 146.64l-4.22 -2.32l-4.22 2.32v4.64l4.22 2.32l4.22 -2.32zM898.5 146.64l-4.22 -2.32l-4.22 2.32v4.64l4.22 2.32l4.22 -2.32zM902.8 139.66l-4.22 -2.32l-4.22 2.32v4.64l4.22 2.32l4.22 -2.32zM911.2 139.66l-4.22 -2.32l-4.22 2.32v4.64l4.22 2.32l4.22 -2.32zM1004.1 41.84l-4.22 -2.32l-4.22 2.32v4.64l4.22 2.32l4.22 -2.32zM999.9 48.83l-4.22 -2.32l-4.22 2.32v4.64l4.22 2.32l4.22 -2.32zM987.2 55.81l-4.22 -2.32l-4.22 2.32v4.64l4.22 2.32l4.22 -2.32zM995.7 55.81l-4.22 -2.32l-4.22 2.32v4.64l4.22 2.32l4.22 -2.32zM983.0 62.80l-4.22 -2.32l-4.22 2.32v4.64l4.22 2.32l4.22 -2.32zM978.8 69.79l-4.22 -2.32l-4.22 2.32v4.64l4.22 2.32l4.22 -2.32zM966.1 76.77l-4.22 -2.32l-4.22 2.32v4.64l4.22 2.32l4.22 -2.32zM974.6 76.77l-4.22 -2.32l-4.22 2.32v4.64l4.22 2.32l4.22 -2.32zM961.9 83.76l-4.22 -2.32l-4.22 2.32v4.64l4.22 2.32l4.22 -2.32zM949.2 90.75l-4.22 -2.32l-4.22 2.32v4.64l4.22 2.32l4.22 -2.32zM957.7 90.75l-4.22 -2.32l-4.22 2.32v4.64l4.22 2.32l4.22 -2.32zM945.0 97.73l-4.22 -2.32l-4.22 2.32v4.64l4.22 2.32l4.22 -2.32zM953.4 97.73l-4.22 -2.32l-4.22 2.32v4.64l4.22 2.32l4.22 -2.32zM940.8 104.72l-4.22 -2.32l-4.22 2.32v4.64l4.22 2.32l4.22 -2.32zM949.2 104.72l-4.22 -2.32l-4.22 2.32v4.64l4.22 2.32l4.22 -2.32zM907.0 132.67l-4.22 -2.32l-4.22 2.32v4.64l4.22 2.32l4.22 -2.32zM915.4 132.67l-4.22 -2.32l-4.22 2.32v4.64l4.22 2.32l4.22 -2.32zM919.7 125.68l-4.22 -2.32l-4.22 2.32v4.64l4.22 2.32l4.22 -2.32zM923.9 118.70l-4.22 -2.32l-4.22 2.32v4.64l4.22 2.32l4.22 -2.32zM932.3 118.70l-4.22 -2.32l-4.22 2.32v4.64l4.22 2.32l4.22 -2.32zM936.6 111.71l-4.22 -2.32l-4.22 2.32v4.64l4.22 2.32l4.22 -2.32z"/>
<path fill="#e2e3e9" stroke="#e2e3e9" stroke-width="0.5" d="M548.0 475.03l-4.22 -2.32l-4.22 2.32v4.64l4.22 2.32l4.22 -2.32zM556.5 475.03l-4.22 -2.32l-4.22 2.32v4.64l4.22 2.32l4.22 -2.32zM543.8 482.02l-4.22 -2.32l-4.22 2.32v4.64l4.22 2.32l4.22 -2.32zM552.3 482.02l-4.22 -2.32l-4.22 2.32v4.64l4.22 2.32l4.22 -2.32zM531.1 489.01l-4.22 -2.32l-4.22 2.32v4.64l4.22 2.32l4.22 -2.32zM539.6 489.01l-4.22 -2.32l-4.22 2.32v4.64l4.22 2.32l4.22 -2.32zM526.9 495.99l-4.22 -2.32l-4.22 2.32v4.64l4.22 2.32l4.22 -2.32zM535.4 495.99l-4.22 -2.32l-4.22 2.32v4.64l4.22 2.32l4.22 -2.32zM531.1 502.98l-4.22 -2.32l-4.22 2.32v4.64l4.22 2.32l4.22 -2.32zM488.9 544.90l-4.22 -2.32l-4.22 2.32v4.64l4.22 2.32l4.22 -2.32zM450.9 565.86l-4.22 -2.32l-4.22 2.32v4.64l4.22 2.32l4.22 -2.32zM467.8 565.86l-4.22 -2.32l-4.22 2.32v4.64l4.22 2.32l4.22 -2.32zM446.7 586.82l-4.22 -2.32l-4.22 2.32v4.64l4.22 2.32l4.22 -2.32zM412.9 600.80l-4.22 -2.32l-4.22 2.32v4.64l4.22 2.32l4.22 -2.32zM425.6 607.79l-4.22 -2.32l-4.22 2.32v4.64l4.22 2.32l4.22 -2.32zM396.0 614.77l-4.22 -2.32l-4.22 2.32v4.64l4.22 2.32l4.22 -2.32zM421.3 614.77l-4.22 -2.32l-4.22 2.32v4.64l4.22 2.32l4.22 -2.32zM404.5 628.75l-4.22 -2.32l-4.22 2.32v4.64l4.22 2.32l4.22 -2.32zM366.5 635.73l-4.22 -2.32l-4.22 2.32v4.64l4.22 2.32l4.22 -2.32zM560.7 468.05l-4.22 -2.32l-4.22 2.32v4.64l4.22 2.32l4.22 -2.32zM383.3 649.71l-4.22 -2.32l-4.22 2.32v4.64l4.22 2.32l4.22 -2.32zM556.5 461.06l-4.22 -2.32l-4.22 2.32v4.64l4.22 2.32l4.22 -2.32zM564.9 461.06l-4.22 -2.32l-4.22 2.32v4.64l4.22 2.32l4.22 -2.32zM577.6 454.07l-4.22 -2.32l-4.22 2.32v4.64l4.22 2.32l4.22 -2.32zM581.8 447.08l-4.22 -2.32l-4.22 2.32v4.64l4.22 2.32l4.22 -2.32zM586.0 440.10l-4.22 -2.32l-4.22 2.32v4.64l4.22 2.32l4.22 -2.32zM594.5 440.10l-4.22 -2.32l-4.22 2.32v4.64l4.22 2.32l4.22 -2.32zM598.7 433.11l-4.22 -2.32l-4.22 2.32v4.64l4.22 2.32l4.22 -2.32z"/>
<path fill="#cdd0dd" stroke="#cdd0dd" stroke-width="0.5" d="M522.7 502.98l-4.22 -2.32l-4.22 2.32v4.64l4.22 2.32l4.22 -2.32zM518.5 509.97l-4.22 -2.32l-4.22 2.32v4.64l4.22 2.32l4.22 -2.32zM514.3 516.95l-4.22 -2.32l-4.22 2.32v4.64l4.22 2.32l4.22 -2.32zM501.6 523.94l-4.22 -2.32l-4.22 2.32v4.64l4.22 2.32l4.22 -2.32zM488.9 530.93l-4.22 -2.32l-4.22 2.32v4.64l4.22 2.32l4.22 -2.32zM484.7 537.92l-4.22 -2.32l-4.22 2.32v4.64l4.22 2.32l4.22 -2.32zM467.8 551.89l-4.22 -2.32l-4.22 2.32v4.64l4.22 2.32l4.22 -2.32zM472.0 558.88l-4.22 -2.32l-4.22 2.32v4.64l4.22 2.32l4.22 -2.32zM446.7 572.85l-4.22 -2.32l-4.22 2.32v4.64l4.22 2.32l4.22 -2.32zM429.8 586.82l-4.22 -2.32l-4.22 2.32v4.64l4.22 2.32l4.22 -2.32zM391.8 621.76l-4.22 -2.32l-4.22 2.32v4.64l4.22 2.32l4.22 -2.32zM374.9 635.73l-4.22 -2.32l-4.22 2.32v4.64l4.22 2.32l4.22 -2.32zM370.7 642.72l-4.22 -2.32l-4.22 2.32v4.64l4.22 2.32l4.22 -2.32zM387.6 642.72l-4.22 -2.32l-4.22 2.32v4.64l4.22 2.32l4.22 -2.32z"/>
<path fill="#b0b5cc" stroke="#b0b5cc" stroke-width="0.5" d="M497.4 530.93l-4.22 -2.32l-4.22 2.32v4.64l4.22 2.32l4.22 -2.32zM493.1 537.92l-4.22 -2.32l-4.22 2.32v4.64l4.22 2.32l4.22 -2.32zM480.5 544.90l-4.22 -2.32l-4.22 2.32v4.64l4.22 2.32l4.22 -2.32zM476.2 551.89l-4.22 -2.32l-4.22 2.32v4.64l4.22 2.32l4.22 -2.32zM463.6 558.88l-4.22 -2.32l-4.22 2.32v4.64l4.22 2.32l4.22 -2.32zM459.4 565.86l-4.22 -2.32l-4.22 2.32v4.64l4.22 2.32l4.22 -2.32zM450.9 579.84l-4.22 -2.32l-4.22 2.32v4.64l4.22 2.32l4.22 -2.32zM429.8 600.80l-4.22 -2.32l-4.22 2.32v4.64l4.22 2.32l4.22 -2.32zM408.7 607.79l-4.22 -2.32l-4.22 2.32v4.64l4.22 2.32l4.22 -2.32zM408.7 621.76l-4.22 -2.32l-4.22 2.32v4.64l4.22 2.32l4.22 -2.32zM379.1 642.72l-4.22 -2.32l-4.22 2.32v4.64l4.22 2.32l4.22 -2.32z"/>
<path fill="#9199bb" stroke="#9199bb" stroke-width="0.5" d="M455.1 572.85l-4.22 -2.32l-4.22 2.32v4.64l4.22 2.32l4.22 -2.32zM442.5 579.84l-4.22 -2.32l-4.22 2.32v4.64l4.22 2.32l4.22 -2.32zM438.2 586.82l-4.22 -2.32l-4.22 2.32v4.64l4.22 2.32l4.22 -2.32zM425.6 593.81l-4.22 -2.32l-4.22 2.32v4.64l4.22 2.32l4.22 -2.32zM434.0 593.81l-4.22 -2.32l-4.22 2.32v4.64l4.22 2.32l4.22 -2.32zM412.9 614.77l-4.22 -2.32l-4.22 2.32v4.64l4.22 2.32l4.22 -2.32zM391.8 635.73l-4.22 -2.32l-4.22 2.32v4.64l4.22 2.32l4.22 -2.32z"/>
<path fill="#6d79a6" stroke="#6d79a6" stroke-width="0.5" d="M421.3 600.80l-4.22 -2.32l-4.22 2.32v4.64l4.22 2.32l4.22 -2.32zM417.1 607.79l-4.22 -2.32l-4.22 2.32v4.64l4.22 2.32l4.22 -2.32zM404.5 614.77l-4.22 -2.32l-4.22 2.32v4.64l4.22 2.32l4.22 -2.32zM387.6 628.75l-4.22 -2.32l-4.22 2.32v4.64l4.22 2.32l4.22 -2.32z"/>
<path fill="#3b4d89" stroke="#3b4d89" stroke-width="0.5" d="M400.2 621.76l-4.22 -2.32l-4.22 2.32v4.64l4.22 2.32l4.22 -2.32z"/>
<path fill="#1f3a78" stroke="#1f3a78" stroke-width="0.5" d="M396.0 628.75l-4.22 -2.32l-4.22 2.32v4.64l4.22 2.32l4.22 -2.32zM383.3 635.73l-4.22 -2.32l-4.22 2.32v4.64l4.22 2.32l4.22 -2.32z"/>
<path fill="#f4f4f5" d="M374.9 649.71l-4.22 -2.32l-4.22 2.32v4.64l4.22 2.32l4.22 -2.32zM374.9 663.68l-4.22 -2.32l-4.22 2.32v4.64l4.22 2.32l4.22 -2.32zM374.9 677.66l-4.22 -2.32l-4.22 2.32v4.64l4.22 2.32l4.22 -2.32zM374.9 691.63l-4.22 -2.32l-4.22 2.32v4.64l4.22 2.32l4.22 -2.32zM374.9 705.60l-4.22 -2.32l-4.22 2.32v4.64l4.22 2.32l4.22 -2.32zM374.9 719.58l-4.22 -2.32l-4.22 2.32v4.64l4.22 2.32l4.22 -2.32zM374.9 733.55l-4.22 -2.32l-4.22 2.32v4.64l4.22 2.32l4.22 -2.32zM374.9 747.53l-4.22 -2.32l-4.22 2.32v4.64l4.22 2.32l4.22 -2.32zM374.9 761.50l-4.22 -2.32l-4.22 2.32v4.64l4.22 2.32l4.22 -2.32zM374.9 775.47l-4.22 -2.32l-4.22 2.32v4.64l4.22 2.32l4.22 -2.32zM374.9 789.45l-4.22 -2.32l-4.22 2.32v4.64l4.22 2.32l4.22 -2.32zM374.9 803.42l-4.22 -2.32l-4.22 2.32v4.64l4.22 2.32l4.22 -2.32zM374.9 817.40l-4.22 -2.32l-4.22 2.32v4.64l4.22 2.32l4.22 -2.32zM374.9 831.37l-4.22 -2.32l-4.22 2.32v4.64l4.22 2.32l4.22 -2.32zM374.9 845.34l-4.22 -2.32l-4.22 2.32v4.64l4.22 2.32l4.22 -2.32z"/>
<path d="M155.3 643.4H376.4M376.4 854.3V643.4" fill="none" stroke="#000" stroke-width="2.7" stroke-dasharray="9.9 9.5"/>
<path d="M112.9 4V895.9M112 894.8H1042" stroke="#000" stroke-width="2.1" fill="none"/>
<path d="M107 9.4H113" stroke="#333" stroke-width="2"/>
<text x="101.0" y="16.9" text-anchor="end" class="tk">10,000</text>
<path d="M107 220.7H113" stroke="#333" stroke-width="2"/>
<text x="101.0" y="228.2" text-anchor="end" class="tk">1,000</text>
<path d="M107 431.9H113" stroke="#333" stroke-width="2"/>
<text x="101.0" y="439.4" text-anchor="end" class="tk">100</text>
<path d="M107 643.1H113" stroke="#333" stroke-width="2"/>
<text x="101.0" y="650.6" text-anchor="end" class="tk">10</text>
<path d="M107 854.3H113" stroke="#333" stroke-width="2"/>
<text x="101.0" y="861.8" text-anchor="end" class="tk">0</text>
<path d="M155.2 895V900.6" stroke="#333" stroke-width="2"/>
<text x="155.2" y="920.8" text-anchor="middle" class="tk">0</text>
<path d="M376.4 895V900.6" stroke="#333" stroke-width="2"/>
<text x="376.4" y="920.8" text-anchor="middle" class="tk">10</text>
<path d="M597.6 895V900.6" stroke="#333" stroke-width="2"/>
<text x="597.6" y="920.8" text-anchor="middle" class="tk">100</text>
<path d="M818.8 895V900.6" stroke="#333" stroke-width="2"/>
<text x="818.8" y="920.8" text-anchor="middle" class="tk">1,000</text>
<path d="M1040.2 895V900.6" stroke="#333" stroke-width="2"/>
<text x="1040.2" y="920.8" text-anchor="middle" class="tk">10,000</text>
<text x="496.0" y="950.1" class="at"><tspan font-size="22.5" dy="1.3">−</tspan><tspan dy="-1.3" dx="3.2">log</tspan><tspan dy="4.4" font-size="17.5">10</tspan><tspan dy="-4.4">P (EUR)</tspan></text>
<text transform="translate(21.9 581.4) rotate(-90)" class="at"><tspan font-size="22.5" dy="1.3">−</tspan><tspan dy="-1.3" dx="3.2">log</tspan><tspan dy="4.4" font-size="17.5">10</tspan><tspan dy="-4.4">P (Meta-analysis)</tspan></text>
<text x="-0.3" y="25.7" class="pl">a</text>
<text x="1064.2" y="25.7" class="pl">b</text>
<text x="134.4" y="37.3" class="lt">Number of</text>
<text x="134.4" y="64.4" class="lt">trait-loci pairs</text>
<defs><linearGradient id="cb" x1="0" y1="1" x2="0" y2="0"><stop offset="0.00" stop-color="#ebebeb"/><stop offset="0.12" stop-color="#d2d2dc"/><stop offset="0.25" stop-color="#b9bacd"/><stop offset="0.38" stop-color="#a1a2be"/><stop offset="0.50" stop-color="#888bb0"/><stop offset="0.62" stop-color="#7075a1"/><stop offset="0.75" stop-color="#575f93"/><stop offset="0.88" stop-color="#3d4b84"/><stop offset="1.00" stop-color="#1e3776"/></linearGradient></defs>
<rect x="134.2" y="79.3" width="39.6" height="195.4" fill="url(#cb)"/>
<path d="M134.2 99.2H142M166 99.2H173.8" stroke="#f4f6fb" stroke-width="1.1"/>
<text x="186.1" y="106.7" class="ll">400,000</text>
<path d="M134.2 143.2H142M166 143.2H173.8" stroke="#f4f6fb" stroke-width="1.1"/>
<text x="186.1" y="150.7" class="ll">300,000</text>
<path d="M134.2 187.3H142M166 187.3H173.8" stroke="#f4f6fb" stroke-width="1.1"/>
<text x="186.1" y="194.8" class="ll">200,000</text>
<path d="M134.2 231.0H142M166 231.0H173.8" stroke="#f4f6fb" stroke-width="1.1"/>
<text x="186.1" y="238.5" class="ll">100,000</text>
<rect x="1657.9" y="302.2" width="143.7" height="43.1" fill="#266e1a"/>
<rect x="1803.3" y="302.2" width="129.8" height="43.1" fill="#6a26a6"/>
<rect x="1935.2" y="302.2" width="140.3" height="43.1" fill="#336699"/>
<text x="1787.6" y="334.2" text-anchor="end" class="th">Meta-only</text>
<text x="1920.2" y="334.2" text-anchor="end" class="th">Both</text>
<text x="2062.2" y="334.2" text-anchor="end" class="th">EUR-only</text>
<text x="1095.5" y="379.2" class="td">Number of variants (raw)</text>
<text x="1787.6" y="379.2" text-anchor="end" class="td">282101</text>
<text x="1920.2" y="379.2" text-anchor="end" class="td">7512124</text>
<text x="2062.2" y="379.2" text-anchor="end" class="td">298994</text>
<text x="1095.5" y="424.4" class="td">Percent heterogeneous</text>
<text x="1787.6" y="424.4" text-anchor="end" class="td">1.54</text>
<text x="1920.2" y="424.4" text-anchor="end" class="td">6.78</text>
<text x="2062.2" y="424.4" text-anchor="end" class="td">17.12</text>
<text x="1095.5" y="469.7" class="td">Percent low INFO score</text>
<text x="1787.6" y="469.7" text-anchor="end" class="td">2.33</text>
<text x="1920.2" y="469.7" text-anchor="end" class="td">3.11</text>
<text x="2062.2" y="469.7" text-anchor="end" class="td">3.06</text>
<text x="1095.5" y="515.0" class="td">Percent low quality</text>
<text x="1787.6" y="515.0" text-anchor="end" class="td">11.43</text>
<text x="1920.2" y="515.0" text-anchor="end" class="td">14.34</text>
<text x="2062.2" y="515.0" text-anchor="end" class="td">13.75</text>
<text x="1095.5" y="560.2" class="td">Number of variants (filtered)</text>
<text x="1787.6" y="560.2" text-anchor="end" class="td">246377</text>
<text x="1920.2" y="560.2" text-anchor="end" class="td">6009071</text>
<text x="2062.2" y="560.2" text-anchor="end" class="td">214829</text>
<text x="1095.5" y="605.5" class="td">Percent common in AFR (rare in EUR)</text>
<text x="1787.6" y="605.5" text-anchor="end" class="td">0.72</text>
<text x="1920.2" y="605.5" text-anchor="end" class="td">0.12</text>
<text x="2062.2" y="605.5" text-anchor="end" class="td">0.29</text>
<text x="1095.5" y="650.7" class="td">Percent common outside EUR (rare in EUR)</text>
<text x="1787.6" y="650.7" text-anchor="end" class="td">0.88</text>
<text x="1920.2" y="650.7" text-anchor="end" class="td">0.23</text>
<text x="2062.2" y="650.7" text-anchor="end" class="td">0.44</text>
</svg>
</body></html>
